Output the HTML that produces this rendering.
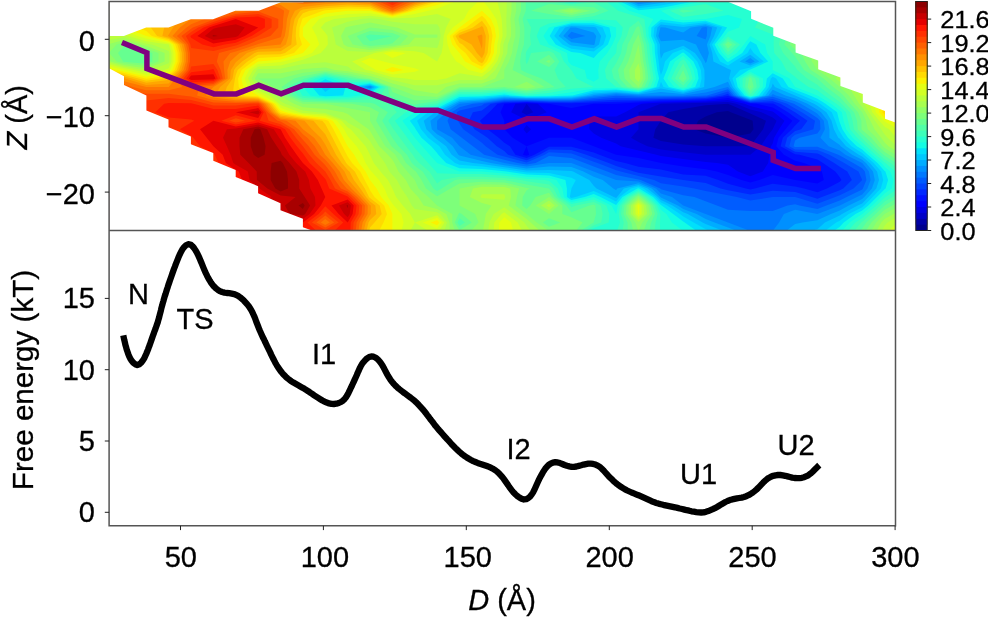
<!DOCTYPE html>
<html lang="en"><head><meta charset="utf-8"><title>Free energy landscape</title>
<style>
html,body{margin:0;padding:0;background:#fff}
svg{display:block}
text{font-family:"Liberation Sans",Arial,Helvetica,sans-serif;fill:#000;stroke:#000;stroke-width:0.3px}
.ax{font-size:29px}
.cb{font-size:25.4px}
.an{font-size:29px}
</style></head>
<body>
<svg width="988" height="617" viewBox="0 0 988 617">
<rect width="988" height="617" fill="#fff"/>
<defs><clipPath id="p"><rect x="109.1" y="1.4" width="786.4" height="229.2"/></clipPath></defs>
<g clip-path="url(#p)"><g>
<rect x="100" y="0" width="800" height="232" fill="#00008d"/>
<path fill="#0000a8" d="M101.6 -3L124 -3L146.3 -3L168.7 -3L191.1 -3L213.4 -3L235.8 -3L258.2 -3L280.6 -3L302.9 -3L325.3 -3L347.7 -3L370 -3L392.4 -3L414.8 -3L437.1 -3L459.5 -3L481.9 -3L504.3 -3L526.6 -3L549 -3L571.4 -3L593.7 -3L616.1 -3L638.5 -3L660.9 -3L683.2 -3L705.6 -3L728 -3L750.3 -3L772.7 -3L795.1 -3L817.4 -3L839.8 -3L862.2 -3L884.6 -3L906.9 -3L906.9 2.2L906.9 10.7L906.9 19.1L906.9 27.6L906.9 36.1L906.9 44.6L906.9 53L906.9 61.5L906.9 70L906.9 78.4L906.9 86.9L906.9 95.4L906.9 103.8L906.9 112.3L906.9 120.8L906.9 129.2L906.9 137.7L906.9 146.2L906.9 154.7L906.9 163.1L906.9 171.6L906.9 180.1L906.9 188.5L906.9 197L906.9 205.5L906.9 214L906.9 222.4L906.9 230.9L884.6 230.9L862.2 230.9L839.8 230.9L817.4 230.9L795.1 230.9L772.7 230.9L750.3 230.9L728 230.9L705.6 230.9L683.2 230.9L660.9 230.9L638.5 230.9L616.1 230.9L593.7 230.9L571.4 230.9L549 230.9L526.6 230.9L504.3 230.9L481.9 230.9L459.5 230.9L437.1 230.9L414.8 230.9L392.4 230.9L370 230.9L347.7 230.9L325.3 230.9L302.9 230.9L280.6 230.9L258.2 230.9L235.8 230.9L213.4 230.9L191.1 230.9L168.7 230.9L146.3 230.9L124 230.9L101.6 230.9L101.6 222.4L101.6 214L101.6 205.5L101.6 197L101.6 188.5L101.6 180.1L101.6 171.6L101.6 163.1L101.6 154.7L101.6 146.2L101.6 137.7L101.6 129.2L101.6 120.8L101.6 112.3L101.6 103.8L101.6 95.4L101.6 86.9L101.6 78.4L101.6 70L101.6 61.5L101.6 53L101.6 44.6L101.6 36.1L101.6 27.6L101.6 19.1L101.6 10.7L101.6 2.2ZM728 111.1L716.8 112.3L705.6 116.5L698.1 120.8L694.4 129.2L705.6 133.5L728 137.7L728 137.7L728 137.7L750.3 133.5L753.5 129.2L752.6 120.8L750.3 119.7L730.8 112.3Z"/>
<path fill="#0000c8" d="M101.6 -3L124 -3L146.3 -3L168.7 -3L191.1 -3L213.4 -3L235.8 -3L258.2 -3L280.6 -3L302.9 -3L325.3 -3L347.7 -3L370 -3L392.4 -3L414.8 -3L437.1 -3L459.5 -3L481.9 -3L504.3 -3L526.6 -3L549 -3L571.4 -3L593.7 -3L616.1 -3L638.5 -3L660.9 -3L683.2 -3L705.6 -3L728 -3L750.3 -3L772.7 -3L795.1 -3L817.4 -3L839.8 -3L862.2 -3L884.6 -3L906.9 -3L906.9 2.2L906.9 10.7L906.9 19.1L906.9 27.6L906.9 36.1L906.9 44.6L906.9 53L906.9 61.5L906.9 70L906.9 78.4L906.9 86.9L906.9 95.4L906.9 103.8L906.9 112.3L906.9 120.8L906.9 129.2L906.9 137.7L906.9 146.2L906.9 154.7L906.9 163.1L906.9 171.6L906.9 180.1L906.9 188.5L906.9 197L906.9 205.5L906.9 214L906.9 222.4L906.9 230.9L884.6 230.9L862.2 230.9L839.8 230.9L817.4 230.9L795.1 230.9L772.7 230.9L750.3 230.9L728 230.9L705.6 230.9L683.2 230.9L660.9 230.9L638.5 230.9L616.1 230.9L593.7 230.9L571.4 230.9L549 230.9L526.6 230.9L504.3 230.9L481.9 230.9L459.5 230.9L437.1 230.9L414.8 230.9L392.4 230.9L370 230.9L347.7 230.9L325.3 230.9L302.9 230.9L280.6 230.9L258.2 230.9L235.8 230.9L213.4 230.9L191.1 230.9L168.7 230.9L146.3 230.9L124 230.9L101.6 230.9L101.6 222.4L101.6 214L101.6 205.5L101.6 197L101.6 188.5L101.6 180.1L101.6 171.6L101.6 163.1L101.6 154.7L101.6 146.2L101.6 137.7L101.6 129.2L101.6 120.8L101.6 112.3L101.6 103.8L101.6 95.4L101.6 86.9L101.6 78.4L101.6 70L101.6 61.5L101.6 53L101.6 44.6L101.6 36.1L101.6 27.6L101.6 19.1L101.6 10.7L101.6 2.2ZM728 103.8L728 103.8L705.6 105.3L683.2 108.9L668.3 112.3L660.9 120.8L660.9 120.8L655.3 129.2L653.4 137.7L660.9 141.1L683.2 144.5L705.6 146.2L705.6 146.2L728 146.2L750.3 146.2L750.3 146.2L756.7 137.7L763.1 129.2L766 120.8L750.3 113.4L747.5 112.3L728 103.8Z"/>
<path fill="#0000e3" d="M101.6 -3L124 -3L146.3 -3L168.7 -3L191.1 -3L213.4 -3L235.8 -3L258.2 -3L280.6 -3L302.9 -3L325.3 -3L347.7 -3L370 -3L392.4 -3L414.8 -3L437.1 -3L459.5 -3L481.9 -3L504.3 -3L526.6 -3L549 -3L571.4 -3L593.7 -3L616.1 -3L638.5 -3L660.9 -3L683.2 -3L705.6 -3L728 -3L750.3 -3L772.7 -3L795.1 -3L817.4 -3L839.8 -3L862.2 -3L884.6 -3L906.9 -3L906.9 2.2L906.9 10.7L906.9 19.1L906.9 27.6L906.9 36.1L906.9 44.6L906.9 53L906.9 61.5L906.9 70L906.9 78.4L906.9 86.9L906.9 95.4L906.9 103.8L906.9 112.3L906.9 120.8L906.9 129.2L906.9 137.7L906.9 146.2L906.9 154.7L906.9 163.1L906.9 171.6L906.9 180.1L906.9 188.5L906.9 197L906.9 205.5L906.9 214L906.9 222.4L906.9 230.9L884.6 230.9L862.2 230.9L839.8 230.9L817.4 230.9L795.1 230.9L772.7 230.9L750.3 230.9L728 230.9L705.6 230.9L683.2 230.9L660.9 230.9L638.5 230.9L616.1 230.9L593.7 230.9L571.4 230.9L549 230.9L526.6 230.9L504.3 230.9L481.9 230.9L459.5 230.9L437.1 230.9L414.8 230.9L392.4 230.9L370 230.9L347.7 230.9L325.3 230.9L302.9 230.9L280.6 230.9L258.2 230.9L235.8 230.9L213.4 230.9L191.1 230.9L168.7 230.9L146.3 230.9L124 230.9L101.6 230.9L101.6 222.4L101.6 214L101.6 205.5L101.6 197L101.6 188.5L101.6 180.1L101.6 171.6L101.6 163.1L101.6 154.7L101.6 146.2L101.6 137.7L101.6 129.2L101.6 120.8L101.6 112.3L101.6 103.8L101.6 95.4L101.6 86.9L101.6 78.4L101.6 70L101.6 61.5L101.6 53L101.6 44.6L101.6 36.1L101.6 27.6L101.6 19.1L101.6 10.7L101.6 2.2ZM526.6 103.8L521.5 112.3L526.6 114.9L533.3 112.3ZM683.2 103.3L660.9 103.8L660.9 103.8L638.5 112.3L638.5 120.8L638.5 129.2L638.5 129.2L631 137.7L638.5 142L647.4 146.2L660.9 149.4L683.2 152.2L705.6 154.7L728 154.7L750.3 154.7L760.7 146.2L766.3 137.7L772.7 129.2L772.7 129.2L776.6 120.8L772.7 117.6L761.5 112.3L750.3 109.5L736.3 103.8L728 101.9L705.6 102.8Z"/>
<path fill="#0000ff" d="M101.6 -3L124 -3L146.3 -3L168.7 -3L191.1 -3L213.4 -3L235.8 -3L258.2 -3L280.6 -3L302.9 -3L325.3 -3L347.7 -3L370 -3L392.4 -3L414.8 -3L437.1 -3L459.5 -3L481.9 -3L504.3 -3L526.6 -3L549 -3L571.4 -3L593.7 -3L616.1 -3L638.5 -3L660.9 -3L683.2 -3L705.6 -3L728 -3L750.3 -3L772.7 -3L795.1 -3L817.4 -3L839.8 -3L862.2 -3L884.6 -3L906.9 -3L906.9 2.2L906.9 10.7L906.9 19.1L906.9 27.6L906.9 36.1L906.9 44.6L906.9 53L906.9 61.5L906.9 70L906.9 78.4L906.9 86.9L906.9 95.4L906.9 103.8L906.9 112.3L906.9 120.8L906.9 129.2L906.9 137.7L906.9 146.2L906.9 154.7L906.9 163.1L906.9 171.6L906.9 180.1L906.9 188.5L906.9 197L906.9 205.5L906.9 214L906.9 222.4L906.9 230.9L884.6 230.9L862.2 230.9L839.8 230.9L817.4 230.9L795.1 230.9L772.7 230.9L750.3 230.9L728 230.9L705.6 230.9L683.2 230.9L660.9 230.9L638.5 230.9L616.1 230.9L593.7 230.9L571.4 230.9L549 230.9L526.6 230.9L504.3 230.9L481.9 230.9L459.5 230.9L437.1 230.9L414.8 230.9L392.4 230.9L370 230.9L347.7 230.9L325.3 230.9L302.9 230.9L280.6 230.9L258.2 230.9L235.8 230.9L213.4 230.9L191.1 230.9L168.7 230.9L146.3 230.9L124 230.9L101.6 230.9L101.6 222.4L101.6 214L101.6 205.5L101.6 197L101.6 188.5L101.6 180.1L101.6 171.6L101.6 163.1L101.6 154.7L101.6 146.2L101.6 137.7L101.6 129.2L101.6 120.8L101.6 112.3L101.6 103.8L101.6 95.4L101.6 86.9L101.6 78.4L101.6 70L101.6 61.5L101.6 53L101.6 44.6L101.6 36.1L101.6 27.6L101.6 19.1L101.6 10.7L101.6 2.2ZM526.6 103.2L515.4 103.8L511.1 112.3L526.6 119.9L546.8 112.3L537.8 103.8ZM660.9 102.6L641.7 103.8L638.5 105.1L625.1 112.3L616.1 116.5L593.7 116.5L589.3 120.8L589.3 129.2L593.7 133.5L601.2 137.7L616.1 143.4L620.6 146.2L638.5 150.4L656.4 154.7L660.9 155.9L683.2 158.9L705.6 161.9L716.8 163.1L728 164.8L737.9 171.6L750.3 176.3L762.8 171.6L768.2 163.1L769.5 154.7L771 146.2L772.7 143.4L774.1 137.7L779.1 129.2L784.5 120.8L773.9 112.3L772.7 111.6L750.3 106.1L744.7 103.8L728 99.9L705.6 101.6L683.2 102.1ZM526.6 125L523.4 129.2L526.6 133.5L531.1 129.2Z"/>
<path fill="#0010ff" d="M101.6 -3L124 -3L146.3 -3L168.7 -3L191.1 -3L213.4 -3L235.8 -3L258.2 -3L280.6 -3L302.9 -3L325.3 -3L347.7 -3L370 -3L392.4 -3L414.8 -3L437.1 -3L459.5 -3L481.9 -3L504.3 -3L526.6 -3L549 -3L571.4 -3L593.7 -3L616.1 -3L638.5 -3L660.9 -3L683.2 -3L705.6 -3L728 -3L750.3 -3L772.7 -3L795.1 -3L817.4 -3L839.8 -3L862.2 -3L884.6 -3L906.9 -3L906.9 2.2L906.9 10.7L906.9 19.1L906.9 27.6L906.9 36.1L906.9 44.6L906.9 53L906.9 61.5L906.9 70L906.9 78.4L906.9 86.9L906.9 95.4L906.9 103.8L906.9 112.3L906.9 120.8L906.9 129.2L906.9 137.7L906.9 146.2L906.9 154.7L906.9 163.1L906.9 171.6L906.9 180.1L906.9 188.5L906.9 197L906.9 205.5L906.9 214L906.9 222.4L906.9 230.9L884.6 230.9L862.2 230.9L839.8 230.9L817.4 230.9L795.1 230.9L772.7 230.9L750.3 230.9L728 230.9L705.6 230.9L683.2 230.9L660.9 230.9L638.5 230.9L616.1 230.9L593.7 230.9L571.4 230.9L549 230.9L526.6 230.9L504.3 230.9L481.9 230.9L459.5 230.9L437.1 230.9L414.8 230.9L392.4 230.9L370 230.9L347.7 230.9L325.3 230.9L302.9 230.9L280.6 230.9L258.2 230.9L235.8 230.9L213.4 230.9L191.1 230.9L168.7 230.9L146.3 230.9L124 230.9L101.6 230.9L101.6 222.4L101.6 214L101.6 205.5L101.6 197L101.6 188.5L101.6 180.1L101.6 171.6L101.6 163.1L101.6 154.7L101.6 146.2L101.6 137.7L101.6 129.2L101.6 120.8L101.6 112.3L101.6 103.8L101.6 95.4L101.6 86.9L101.6 78.4L101.6 70L101.6 61.5L101.6 53L101.6 44.6L101.6 36.1L101.6 27.6L101.6 19.1L101.6 10.7L101.6 2.2ZM504.3 103.8L504.3 103.8L500.5 112.3L504.3 120.8L504.3 129.2L504.3 129.2L512.6 137.7L526.6 146.2L522.9 154.7L526.6 155.8L529.2 154.7L526.6 146.2L549 137.7L571.4 137.7L593.7 146.2L593.7 146.2L616.1 154.7L616.1 154.7L638.5 158L660.9 163.1L660.9 163.1L683.2 166.5L705.6 169.2L716.8 171.6L728 175L741.4 180.1L750.3 182.5L759.3 180.1L772.7 175L795.1 180.1L795.1 180.1L817.4 183.5L823.8 180.1L821.9 171.6L817.4 168.2L804 163.1L795.1 160.7L783.9 154.7L776.3 146.2L778.5 137.7L785.5 129.2L792.4 120.8L780.9 112.3L772.7 107.4L756.7 103.8L750.3 103.6L728 98L705.6 100.4L683.2 101L660.9 101.4L638.5 102.6L616.1 103.8L593.7 103.8L593.7 103.8L571.4 108.1L549 103.8L549 103.8L526.6 102.5Z"/>
<path fill="#0028ff" d="M101.6 -3L124 -3L146.3 -3L168.7 -3L191.1 -3L213.4 -3L235.8 -3L258.2 -3L280.6 -3L302.9 -3L325.3 -3L347.7 -3L370 -3L392.4 -3L414.8 -3L437.1 -3L459.5 -3L481.9 -3L504.3 -3L526.6 -3L549 -3L571.4 -3L593.7 -3L616.1 -3L638.5 -3L660.9 -3L683.2 -3L705.6 -3L728 -3L750.3 -3L772.7 -3L795.1 -3L817.4 -3L839.8 -3L862.2 -3L884.6 -3L906.9 -3L906.9 2.2L906.9 10.7L906.9 19.1L906.9 27.6L906.9 36.1L906.9 44.6L906.9 53L906.9 61.5L906.9 70L906.9 78.4L906.9 86.9L906.9 95.4L906.9 103.8L906.9 112.3L906.9 120.8L906.9 129.2L906.9 137.7L906.9 146.2L906.9 154.7L906.9 163.1L906.9 171.6L906.9 180.1L906.9 188.5L906.9 197L906.9 205.5L906.9 214L906.9 222.4L906.9 230.9L884.6 230.9L862.2 230.9L839.8 230.9L817.4 230.9L795.1 230.9L772.7 230.9L750.3 230.9L728 230.9L705.6 230.9L683.2 230.9L660.9 230.9L638.5 230.9L616.1 230.9L593.7 230.9L571.4 230.9L549 230.9L526.6 230.9L504.3 230.9L481.9 230.9L459.5 230.9L437.1 230.9L414.8 230.9L392.4 230.9L370 230.9L347.7 230.9L325.3 230.9L302.9 230.9L280.6 230.9L258.2 230.9L235.8 230.9L213.4 230.9L191.1 230.9L168.7 230.9L146.3 230.9L124 230.9L101.6 230.9L101.6 222.4L101.6 214L101.6 205.5L101.6 197L101.6 188.5L101.6 180.1L101.6 171.6L101.6 163.1L101.6 154.7L101.6 146.2L101.6 137.7L101.6 129.2L101.6 120.8L101.6 112.3L101.6 103.8L101.6 95.4L101.6 86.9L101.6 78.4L101.6 70L101.6 61.5L101.6 53L101.6 44.6L101.6 36.1L101.6 27.6L101.6 19.1L101.6 10.7L101.6 2.2ZM504.3 102.8L497.5 103.8L489.3 112.3L481.9 119.1L480 120.8L481.9 123.6L487.5 129.2L498.7 137.7L504.3 142.8L509.9 146.2L515.4 154.7L526.6 158L534.4 154.7L549 146.7L571.4 146.8L593.7 152.5L599.3 154.7L616.1 161L625.1 163.1L638.5 166.8L660.9 169.5L669.8 171.6L683.2 174.4L705.6 175.8L718.4 180.1L728 183.7L745.9 188.5L750.3 189.4L754.8 188.5L772.7 183.7L795.1 186.4L804 188.5L817.4 192.2L827 188.5L839.8 181.8L841.5 180.1L839.8 177.2L835.3 171.6L823 163.1L817.4 159.5L799.5 154.7L795.1 154.3L780.6 146.2L782.8 137.7L791.9 129.2L795.1 125.6L800 120.8L795.1 117.4L788 112.3L773.8 103.8L772.7 103.5L750.3 102.9L728 96L705.6 99.2L683.2 99.9L660.9 100.2L638.5 101.2L616.1 101.8L593.7 102.4L571.4 103.2L549 103L526.6 101.9Z"/>
<path fill="#0044ff" d="M101.6 -3L124 -3L146.3 -3L168.7 -3L191.1 -3L213.4 -3L235.8 -3L258.2 -3L280.6 -3L302.9 -3L325.3 -3L347.7 -3L370 -3L392.4 -3L414.8 -3L437.1 -3L459.5 -3L481.9 -3L504.3 -3L526.6 -3L549 -3L571.4 -3L593.7 -3L616.1 -3L638.5 -3L660.9 -3L683.2 -3L705.6 -3L728 -3L750.3 -3L772.7 -3L795.1 -3L817.4 -3L839.8 -3L862.2 -3L884.6 -3L906.9 -3L906.9 2.2L906.9 10.7L906.9 19.1L906.9 27.6L906.9 36.1L906.9 44.6L906.9 53L906.9 61.5L906.9 70L906.9 78.4L906.9 86.9L906.9 95.4L906.9 103.8L906.9 112.3L906.9 120.8L906.9 129.2L906.9 137.7L906.9 146.2L906.9 154.7L906.9 163.1L906.9 171.6L906.9 180.1L906.9 188.5L906.9 197L906.9 205.5L906.9 214L906.9 222.4L906.9 230.9L884.6 230.9L862.2 230.9L839.8 230.9L817.4 230.9L795.1 230.9L772.7 230.9L750.3 230.9L728 230.9L705.6 230.9L683.2 230.9L660.9 230.9L638.5 230.9L616.1 230.9L593.7 230.9L571.4 230.9L549 230.9L526.6 230.9L504.3 230.9L481.9 230.9L459.5 230.9L437.1 230.9L414.8 230.9L392.4 230.9L370 230.9L347.7 230.9L325.3 230.9L302.9 230.9L280.6 230.9L258.2 230.9L235.8 230.9L213.4 230.9L191.1 230.9L168.7 230.9L146.3 230.9L124 230.9L101.6 230.9L101.6 222.4L101.6 214L101.6 205.5L101.6 197L101.6 188.5L101.6 180.1L101.6 171.6L101.6 163.1L101.6 154.7L101.6 146.2L101.6 137.7L101.6 129.2L101.6 120.8L101.6 112.3L101.6 103.8L101.6 95.4L101.6 86.9L101.6 78.4L101.6 70L101.6 61.5L101.6 53L101.6 44.6L101.6 36.1L101.6 27.6L101.6 19.1L101.6 10.7L101.6 2.2ZM728 93.8L722.7 95.4L705.6 98L683.2 98.8L660.9 99L638.5 99.7L616.1 99.8L593.7 100.9L571.4 102.2L549 102.1L526.6 101.2L504.3 101.8L490.8 103.8L481.9 110.6L472.9 112.3L468.8 120.8L474.4 129.2L481.9 134.1L487.5 137.7L496.8 146.2L504.3 151L508 154.7L526.6 160.2L539.5 154.7L549 149.5L571.4 150.1L586.3 154.7L593.7 157.5L608.7 163.1L616.1 166L634 171.6L638.5 172.7L660.9 176.4L683.2 180.1L683.2 180.1L705.6 182.9L720.5 188.5L728 190.2L750.3 194.5L772.7 190.7L795.1 191.9L811.8 197L817.4 198.7L821.9 197L839.8 190.2L843.3 188.5L851.9 180.1L847.3 171.6L839.8 166.8L834.2 163.1L820.4 154.7L817.4 153.5L795.1 151.8L785 146.2L787.1 137.7L795.1 131.1L801.2 129.2L807.5 120.8L795.1 112.3L795.1 112.3L780.5 103.8L772.7 101.3L750.3 102.2L729.4 95.4Z"/>
<path fill="#005cff" d="M101.6 -3L124 -3L146.3 -3L168.7 -3L191.1 -3L213.4 -3L235.8 -3L258.2 -3L280.6 -3L302.9 -3L325.3 -3L347.7 -3L370 -3L392.4 -3L414.8 -3L437.1 -3L459.5 -3L481.9 -3L504.3 -3L526.6 -3L549 -3L571.4 -3L593.7 -3L616.1 -3L638.5 -3L660.9 -3L683.2 -3L705.6 -3L728 -3L750.3 -3L772.7 -3L795.1 -3L817.4 -3L839.8 -3L862.2 -3L884.6 -3L906.9 -3L906.9 2.2L906.9 10.7L906.9 19.1L906.9 27.6L906.9 36.1L906.9 44.6L906.9 53L906.9 61.5L906.9 70L906.9 78.4L906.9 86.9L906.9 95.4L906.9 103.8L906.9 112.3L906.9 120.8L906.9 129.2L906.9 137.7L906.9 146.2L906.9 154.7L906.9 163.1L906.9 171.6L906.9 180.1L906.9 188.5L906.9 197L906.9 205.5L906.9 214L906.9 222.4L906.9 230.9L884.6 230.9L862.2 230.9L839.8 230.9L817.4 230.9L795.1 230.9L772.7 230.9L750.3 230.9L728 230.9L705.6 230.9L683.2 230.9L660.9 230.9L638.5 230.9L616.1 230.9L593.7 230.9L571.4 230.9L549 230.9L526.6 230.9L504.3 230.9L481.9 230.9L459.5 230.9L437.1 230.9L414.8 230.9L392.4 230.9L370 230.9L347.7 230.9L325.3 230.9L302.9 230.9L280.6 230.9L258.2 230.9L235.8 230.9L213.4 230.9L191.1 230.9L168.7 230.9L146.3 230.9L124 230.9L101.6 230.9L101.6 222.4L101.6 214L101.6 205.5L101.6 197L101.6 188.5L101.6 180.1L101.6 171.6L101.6 163.1L101.6 154.7L101.6 146.2L101.6 137.7L101.6 129.2L101.6 120.8L101.6 112.3L101.6 103.8L101.6 95.4L101.6 86.9L101.6 78.4L101.6 70L101.6 61.5L101.6 53L101.6 44.6L101.6 36.1L101.6 27.6L101.6 19.1L101.6 10.7L101.6 2.2ZM728 91.5L714.8 95.4L705.6 96.8L683.2 97.6L660.9 97.8L638.5 98.3L616.1 97.7L593.7 99.5L571.4 101.3L549 101.3L526.6 100.5L504.3 100.8L484.1 103.8L481.9 105.5L459.5 110.6L456.8 112.3L457.8 120.8L459.5 123.6L463.2 129.2L475.2 137.7L481.9 142.8L485.6 146.2L497.5 154.7L504.3 156.4L526.6 162.4L544.7 154.7L549 152.3L571.4 153.5L575.1 154.7L593.7 161.7L597.5 163.1L616.1 170.2L620.6 171.6L638.5 176.1L654.1 180.1L660.9 183.2L683.2 186.4L694.4 188.5L705.6 191L728 195.3L736.9 197L750.3 200.6L772.7 197L795.1 197L817.4 203.8L835.3 197L839.8 195.3L853.6 188.5L862.2 180.1L862.2 180.1L862.2 180.1L858.5 171.6L844.3 163.1L839.8 160.6L829.4 154.7L817.4 150.1L795.1 149.4L789.3 146.2L791.5 137.7L795.1 134.7L813.4 129.2L815 120.8L801.8 112.3L795.1 108.4L787.2 103.8L772.7 99.1L750.3 101.5L731.6 95.4Z"/>
<path fill="#0078ff" d="M101.6 -3L124 -3L146.3 -3L168.7 -3L191.1 -3L213.4 -3L235.8 -3L258.2 -3L280.6 -3L302.9 -3L325.3 -3L347.7 -3L370 -3L392.4 -3L414.8 -3L437.1 -3L459.5 -3L481.9 -3L504.3 -3L526.6 -3L549 -3L571.4 -3L593.7 -3L616.1 -3L638.5 -3L660.9 -3L683.2 -3L705.6 -3L728 -3L750.3 -3L772.7 -3L795.1 -3L817.4 -3L839.8 -3L862.2 -3L884.6 -3L906.9 -3L906.9 2.2L906.9 10.7L906.9 19.1L906.9 27.6L906.9 36.1L906.9 44.6L906.9 53L906.9 61.5L906.9 70L906.9 78.4L906.9 86.9L906.9 95.4L906.9 103.8L906.9 112.3L906.9 120.8L906.9 129.2L906.9 137.7L906.9 146.2L906.9 154.7L906.9 163.1L906.9 171.6L906.9 180.1L906.9 188.5L906.9 197L906.9 205.5L906.9 214L906.9 222.4L906.9 230.9L884.6 230.9L862.2 230.9L839.8 230.9L817.4 230.9L795.1 230.9L772.7 230.9L750.3 230.9L728 230.9L705.6 230.9L683.2 230.9L660.9 230.9L638.5 230.9L616.1 230.9L593.7 230.9L571.4 230.9L549 230.9L526.6 230.9L504.3 230.9L481.9 230.9L459.5 230.9L437.1 230.9L414.8 230.9L392.4 230.9L370 230.9L347.7 230.9L325.3 230.9L302.9 230.9L280.6 230.9L258.2 230.9L235.8 230.9L213.4 230.9L191.1 230.9L168.7 230.9L146.3 230.9L124 230.9L101.6 230.9L101.6 222.4L101.6 214L101.6 205.5L101.6 197L101.6 188.5L101.6 180.1L101.6 171.6L101.6 163.1L101.6 154.7L101.6 146.2L101.6 137.7L101.6 129.2L101.6 120.8L101.6 112.3L101.6 103.8L101.6 95.4L101.6 86.9L101.6 78.4L101.6 70L101.6 61.5L101.6 53L101.6 44.6L101.6 36.1L101.6 27.6L101.6 19.1L101.6 10.7L101.6 2.2ZM728 89.2L706.9 95.4L705.6 95.6L683.2 96.5L660.9 96.6L638.5 96.8L616.1 95.7L593.7 98L571.4 100.3L549 100.5L526.6 99.9L504.3 99.8L481.9 103L472.9 103.8L459.5 107.2L451.5 112.3L447.5 120.8L450.6 129.2L459.5 136L461.8 137.7L472.9 146.2L481.9 153L484.1 154.7L504.3 159.7L517.7 163.1L526.6 164.5L535.6 163.1L549 155.9L571.4 158L584.8 163.1L593.7 166.5L607.2 171.6L616.1 175L638.5 179.5L640.7 180.1L660.2 188.5L660.9 189.2L683.2 195.3L694.4 197L705.6 201.2L716.8 205.5L728 209.7L750.3 211.1L772.7 211.1L787.6 205.5L795.1 204.3L799.5 205.5L817.4 208.9L826.4 205.5L839.8 200.4L846.7 197L862.2 189.4L862.9 188.5L866.4 180.1L864.9 171.6L862.2 168.2L853.2 163.1L839.8 155.5L838.3 154.7L817.4 146.8L795.1 147L793.6 146.2L795.1 140.5L799.5 137.7L817.4 133.5L820.4 129.2L820 120.8L817.4 118L808.5 112.3L795.1 104.5L794 103.8L772.7 96.8L750.3 100.8L733.7 95.4Z"/>
<path fill="#0090ff" d="M101.6 -3L124 -3L146.3 -3L168.7 -3L191.1 -3L213.4 -3L235.8 -3L258.2 -3L280.6 -3L302.9 -3L325.3 -3L347.7 -3L370 -3L392.4 -3L414.8 -3L437.1 -3L459.5 -3L481.9 -3L504.3 -3L526.6 -3L549 -3L571.4 -3L593.7 -3L616.1 -3L638.5 -3L638.5 2.2L638.5 2.2L638.5 2.2L638.5 -3L660.9 -3L683.2 -3L705.6 -3L728 -3L750.3 -3L772.7 -3L795.1 -3L817.4 -3L839.8 -3L862.2 -3L884.6 -3L906.9 -3L906.9 2.2L906.9 10.7L906.9 19.1L906.9 27.6L906.9 36.1L906.9 44.6L906.9 53L906.9 61.5L906.9 70L906.9 78.4L906.9 86.9L906.9 95.4L906.9 103.8L906.9 112.3L906.9 120.8L906.9 129.2L906.9 137.7L906.9 146.2L906.9 154.7L906.9 163.1L906.9 171.6L906.9 180.1L906.9 188.5L906.9 197L906.9 205.5L906.9 214L906.9 222.4L906.9 230.9L884.6 230.9L862.2 230.9L839.8 230.9L817.4 230.9L795.1 230.9L772.7 230.9L779.1 222.4L783.9 214L795.1 209.7L817.4 214L817.4 214L817.4 214L839.8 205.5L839.8 205.5L857 197L862.2 194.5L867.4 188.5L870.6 180.1L869 171.6L862.2 163.1L862.2 163.1L845.4 154.7L839.8 150.4L828.6 146.2L820.4 137.7L824.9 129.2L823.8 120.8L817.4 113.7L815.2 112.3L800.7 103.8L795.1 101.3L775.9 95.4L772.7 94L771.6 95.4L750.3 100.1L735.9 95.4L728 86.9L728 86.9L728 86.9L705.6 92.5L683.2 95.4L660.9 95.4L638.5 95.4L616.1 94.3L604.9 95.4L593.7 96.6L571.4 99.4L549 99.6L526.6 99.2L504.3 98.8L481.9 101.7L459.5 103.8L459.5 103.8L446.1 112.3L437.1 120.8L437.1 120.8L437.1 129.2L437.1 129.2L452.1 137.7L459.5 146.2L459.5 146.2L470.7 154.7L481.9 157.5L504.3 163.1L504.3 163.1L526.6 166.5L549 163.1L571.4 163.1L593.7 171.6L593.7 171.6L616.1 180.1L616.1 180.1L638.5 181.5L656 188.5L660.9 193.5L672 197L683.2 205.5L683.2 205.5L705.6 214L705.6 214L728 222.4L728 222.4L750.3 230.9L728 230.9L705.6 230.9L683.2 230.9L660.9 230.9L638.5 230.9L616.1 230.9L593.7 230.9L571.4 230.9L549 230.9L526.6 230.9L504.3 230.9L481.9 230.9L459.5 230.9L437.1 230.9L414.8 230.9L392.4 230.9L370 230.9L347.7 230.9L325.3 230.9L302.9 230.9L280.6 230.9L258.2 230.9L235.8 230.9L213.4 230.9L191.1 230.9L168.7 230.9L146.3 230.9L124 230.9L101.6 230.9L101.6 222.4L101.6 214L101.6 205.5L101.6 197L101.6 188.5L101.6 180.1L101.6 171.6L101.6 163.1L101.6 154.7L101.6 146.2L101.6 137.7L101.6 129.2L101.6 120.8L101.6 112.3L101.6 103.8L101.6 95.4L101.6 86.9L101.6 78.4L101.6 70L101.6 61.5L101.6 53L101.6 44.6L101.6 36.1L101.6 27.6L101.6 19.1L101.6 10.7L101.6 2.2ZM370 86.9L370 86.9L370 86.9L370 86.9ZM571.4 31.8L567.6 36.1L571.4 38.9L585.4 36.1ZM660.9 36.1L660.9 36.1L660.9 36.1L660.9 36.1ZM705.6 27.1L701.9 27.6L696.6 36.1L705.6 39.5L706.8 36.1L707.2 27.6ZM750.3 61.5L750.3 61.5L750.3 61.5L750.3 61.5ZM705.6 53L705.6 53L705.6 53L705.6 53Z"/>
<path fill="#00acff" d="M101.6 -3L124 -3L146.3 -3L168.7 -3L191.1 -3L213.4 -3L235.8 -3L258.2 -3L280.6 -3L302.9 -3L325.3 -3L347.7 -3L370 -3L392.4 -3L414.8 -3L437.1 -3L459.5 -3L481.9 -3L504.3 -3L526.6 -3L549 -3L571.4 -3L593.7 -3L616.1 -3L634.3 -3L634.3 2.2L638.5 4.2L651.9 2.2L651.9 -3L660.9 -3L683.2 -3L705.6 -3L728 -3L750.3 -3L772.7 -3L795.1 -3L817.4 -3L839.8 -3L862.2 -3L884.6 -3L906.9 -3L906.9 2.2L906.9 10.7L906.9 19.1L906.9 27.6L906.9 36.1L906.9 44.6L906.9 53L906.9 61.5L906.9 70L906.9 78.4L906.9 86.9L906.9 95.4L906.9 103.8L906.9 112.3L906.9 120.8L906.9 129.2L906.9 137.7L906.9 146.2L906.9 154.7L906.9 163.1L906.9 171.6L906.9 180.1L906.9 188.5L906.9 197L906.9 205.5L906.9 214L906.9 222.4L906.9 230.9L884.6 230.9L862.2 230.9L839.8 230.9L817.4 230.9L795.1 230.9L786.1 230.9L795.1 224.1L802.5 222.4L817.4 220.3L830.9 214L839.8 210.6L848.8 205.5L862.2 199.1L864.3 197L871.9 188.5L874.8 180.1L873 171.6L866 163.1L862.2 159.7L852.1 154.7L840.7 146.2L839.8 145.1L829.4 137.7L829.4 129.2L827.7 120.8L821 112.3L817.4 109.7L807.4 103.8L795.1 98.4L785.5 95.4L772.7 89.7L768.4 95.4L750.3 99.4L738.1 95.4L730.4 86.9L728 81.8L714.5 86.9L705.6 89.2L683.2 94.1L660.9 92L638.5 94.5L616.1 93.1L593.7 95.1L592.6 95.4L571.4 98.4L549 98.8L526.6 98.6L504.3 97.7L481.9 100.5L459.5 102.1L456.2 103.8L440.7 112.3L437.1 115.7L430.4 120.8L431.8 129.2L437.1 134.3L443.1 137.7L452.8 146.2L458.4 154.7L459.5 155.5L481.9 160.9L490.8 163.1L504.3 165.2L526.6 168.6L549 166.5L571.4 167L583.4 171.6L593.7 176.7L602.7 180.1L613.3 188.5L616.1 190.2L617.2 188.5L638.5 183.2L651.8 188.5L660.4 197L660.9 197.4L677.9 205.5L683.2 208.9L696.6 214L705.6 219L714.5 222.4L728 227.5L736.9 230.9L728 230.9L705.6 230.9L683.2 230.9L660.9 230.9L638.5 230.9L616.1 230.9L593.7 230.9L571.4 230.9L549 230.9L526.6 230.9L504.3 230.9L481.9 230.9L459.5 230.9L437.1 230.9L414.8 230.9L392.4 230.9L370 230.9L347.7 230.9L325.3 230.9L302.9 230.9L280.6 230.9L258.2 230.9L235.8 230.9L213.4 230.9L191.1 230.9L168.7 230.9L146.3 230.9L124 230.9L101.6 230.9L101.6 222.4L101.6 214L101.6 205.5L101.6 197L101.6 188.5L101.6 180.1L101.6 171.6L101.6 163.1L101.6 154.7L101.6 146.2L101.6 137.7L101.6 129.2L101.6 120.8L101.6 112.3L101.6 103.8L101.6 95.4L101.6 86.9L101.6 78.4L101.6 70L101.6 61.5L101.6 53L101.6 44.6L101.6 36.1L101.6 27.6L101.6 19.1L101.6 10.7L101.6 2.2ZM370 86.1L364.7 86.9L370 88.4L372.3 86.9ZM571.4 27.4L570.5 27.6L563.2 36.1L571.4 42.3L589.3 44.6L593.7 45.1L594.5 44.6L596.2 36.1L593.7 32.5L575.8 27.6ZM660.9 27.2L660.4 27.6L658.4 36.1L660.9 41.2L683.2 39.7L696 44.6L700.2 53L705 61.5L705.6 63.2L706.7 61.5L708.9 53L706.9 44.6L710.4 36.1L712.2 27.6L705.6 25.5L690.7 27.6L683.2 32.5L665.3 27.6ZM750.3 58.1L745 61.5L750.3 63.5L754.8 61.5Z"/>
<path fill="#00c8ff" d="M101.6 -3L124 -3L146.3 -3L168.7 -3L191.1 -3L213.4 -3L235.8 -3L258.2 -3L280.6 -3L302.9 -3L325.3 -3L347.7 -3L370 -3L392.4 -3L414.8 -3L437.1 -3L459.5 -3L481.9 -3L504.3 -3L526.6 -3L549 -3L571.4 -3L593.7 -3L616.1 -3L630.1 -3L630.1 2.2L638.5 6.3L660.9 3L665.3 2.2L665.3 -3L683.2 -3L705.6 -3L728 -3L750.3 -3L772.7 -3L795.1 -3L817.4 -3L839.8 -3L862.2 -3L884.6 -3L906.9 -3L906.9 2.2L906.9 10.7L906.9 19.1L906.9 27.6L906.9 36.1L906.9 44.6L906.9 53L906.9 61.5L906.9 70L906.9 78.4L906.9 86.9L906.9 95.4L906.9 103.8L906.9 112.3L906.9 120.8L906.9 129.2L906.9 137.7L906.9 146.2L906.9 154.7L906.9 163.1L906.9 171.6L906.9 180.1L906.9 188.5L906.9 197L906.9 205.5L906.9 214L906.9 222.4L906.9 230.9L884.6 230.9L862.2 230.9L839.8 230.9L817.4 230.9L810 230.9L817.4 229.2L824.9 222.4L839.8 215.6L842 214L857.7 205.5L862.2 203.4L868.5 197L876.3 188.5L879 180.1L877.1 171.6L869.8 163.1L862.2 156.4L858.8 154.7L846.1 146.2L839.8 138.8L838.3 137.7L833.8 129.2L831.5 120.8L826.4 112.3L817.4 105.8L814.1 103.8L795.1 95.4L795.1 95.4L774.9 86.9L772.7 83.5L771.7 86.9L765.2 95.4L750.3 98.7L740.2 95.4L732.8 86.9L729.1 78.4L730.9 70L728 68.8L713.4 61.5L712.3 53L709.5 44.6L714.1 36.1L717.2 27.6L705.6 23.9L683.2 26.9L660.9 24.6L657.4 27.6L656 36.1L660 44.6L660 53L660.9 58.7L663.8 53L683.2 45.7L694.9 53L701.1 61.5L704.4 70L704.6 78.4L704.1 86.9L683.2 92.8L660.9 88.6L638.5 93.7L616.1 91.9L593.7 93.5L585.9 95.4L571.4 97.4L549 97.9L526.6 97.9L504.3 96.7L481.9 99.2L459.5 100.5L452.8 103.8L437.1 111.7L434.9 112.3L423.7 120.8L426.4 129.2L434.9 137.7L437.1 139.4L446.1 146.2L451.7 154.7L459.5 160.6L472.9 163.1L481.9 164L504.3 167.2L526.6 170.6L549 169.9L571.4 170.9L573.1 171.6L589.3 180.1L593.7 185.7L596.5 188.5L613.9 197L616.1 198.1L617 197L623.9 188.5L638.5 184.9L647.6 188.5L658 197L660.9 200L672.5 205.5L683.2 212.3L687.7 214L702.6 222.4L705.6 224.1L723.5 230.9L705.6 230.9L683.2 230.9L660.9 230.9L638.5 230.9L616.1 230.9L593.7 230.9L571.4 230.9L549 230.9L526.6 230.9L504.3 230.9L481.9 230.9L459.5 230.9L437.1 230.9L414.8 230.9L392.4 230.9L370 230.9L347.7 230.9L325.3 230.9L302.9 230.9L280.6 230.9L258.2 230.9L235.8 230.9L213.4 230.9L191.1 230.9L168.7 230.9L146.3 230.9L124 230.9L101.6 230.9L101.6 222.4L101.6 214L101.6 205.5L101.6 197L101.6 188.5L101.6 180.1L101.6 171.6L101.6 163.1L101.6 154.7L101.6 146.2L101.6 137.7L101.6 129.2L101.6 120.8L101.6 112.3L101.6 103.8L101.6 95.4L101.6 86.9L101.6 78.4L101.6 70L101.6 61.5L101.6 53L101.6 44.6L101.6 36.1L101.6 27.6L101.6 19.1L101.6 10.7L101.6 2.2ZM370 85.2L359.3 86.9L370 89.8L374.5 86.9ZM571.4 26L565.1 27.6L558.7 36.1L569.1 44.6L571.4 45.6L593.7 48.3L599 44.6L601.2 36.1L596 27.6L593.7 27ZM750.3 54.7L739.6 61.5L750.3 65.6L759.3 61.5Z"/>
<path fill="#00e0fb" d="M101.6 -3L124 -3L146.3 -3L168.7 -3L191.1 -3L213.4 -3L235.8 -3L258.2 -3L280.6 -3L302.9 -3L325.3 -3L347.7 -3L370 -3L392.4 -3L414.8 -3L437.1 -3L459.5 -3L481.9 -3L504.3 -3L526.6 -3L549 -3L571.4 -3L593.7 -3L616.1 -3L625.9 -3L625.9 2.2L638.5 8.3L660.9 5.6L678.7 2.2L678.7 -3L683.2 -3L705.6 -3L728 -3L750.3 -3L772.7 -3L795.1 -3L817.4 -3L839.8 -3L862.2 -3L884.6 -3L906.9 -3L906.9 2.2L906.9 10.7L906.9 19.1L906.9 27.6L906.9 36.1L906.9 44.6L906.9 53L906.9 61.5L906.9 70L906.9 78.4L906.9 86.9L906.9 95.4L906.9 103.8L906.9 112.3L906.9 120.8L906.9 129.2L906.9 137.7L906.9 146.2L906.9 154.7L906.9 163.1L906.9 171.6L906.9 180.1L906.9 188.5L906.9 197L906.9 205.5L906.9 214L906.9 222.4L906.9 230.9L884.6 230.9L862.2 230.9L839.8 230.9L824.9 230.9L836.1 222.4L839.8 220.7L848.8 214L862.2 207.2L864.2 205.5L872.7 197L880.8 188.5L883.2 180.1L881.2 171.6L873.7 163.1L864.1 154.7L862.2 153L851.4 146.2L843.5 137.7L839.8 131.7L838.3 129.2L835.3 120.8L831.8 112.3L820.1 103.8L817.4 102.1L802.5 95.4L795.1 92.5L781.6 86.9L776.1 78.4L772.7 76.7L770.8 78.4L768.7 86.9L762 95.4L750.3 98L742.4 95.4L735.3 86.9L732.4 78.4L739.9 70L750.3 67.6L763.8 61.5L753.7 53L750.3 47.9L747.6 53L734.2 61.5L728 65.4L720.1 61.5L715.7 53L712 44.6L717.7 36.1L722.2 27.6L705.6 22.3L683.2 24.7L660.9 22.1L654.4 27.6L653.5 36.1L657.3 44.6L657.5 53L658.7 61.5L659.6 70L660.9 75L662.9 70L665 61.5L672.8 53L683.2 49.1L689.5 53L697.3 61.5L700.9 70L701.6 78.4L699.6 86.9L683.2 91.6L663.5 86.9L660.9 81.8L659.4 86.9L638.5 92.8L616.1 90.6L593.7 91.8L579.2 95.4L571.4 96.5L549 97.1L526.6 97.2L504.3 95.7L481.9 97.9L459.5 98.8L449.5 103.8L437.1 110.1L428.2 112.3L417 120.8L421 129.2L428.2 137.7L437.1 144.5L439.4 146.2L445 154.7L455 163.1L459.5 164.8L481.9 166.5L504.3 169.2L519.9 171.6L526.6 172.6L549 172.9L571.4 177.7L575.8 180.1L571.4 188.5L571.4 188.5L569.9 197L571.4 198L575.8 197L593.7 191L607.2 197L616.1 201.5L619.7 197L630.7 188.5L638.5 186.6L643.4 188.5L655.6 197L660.9 202.5L667.1 205.5L679.9 214L683.2 216.5L693.7 222.4L705.6 229.2L710.1 230.9L705.6 230.9L683.2 230.9L660.9 230.9L638.5 230.9L616.1 230.9L593.7 230.9L571.4 230.9L549 230.9L526.6 230.9L504.3 230.9L481.9 230.9L459.5 230.9L437.1 230.9L414.8 230.9L392.4 230.9L370 230.9L347.7 230.9L325.3 230.9L302.9 230.9L280.6 230.9L258.2 230.9L235.8 230.9L213.4 230.9L191.1 230.9L168.7 230.9L146.3 230.9L124 230.9L101.6 230.9L101.6 222.4L101.6 214L101.6 205.5L101.6 197L101.6 188.5L101.6 180.1L101.6 171.6L101.6 163.1L101.6 154.7L101.6 146.2L101.6 137.7L101.6 129.2L101.6 120.8L101.6 112.3L101.6 103.8L101.6 95.4L101.6 86.9L101.6 78.4L101.6 70L101.6 61.5L101.6 53L101.6 44.6L101.6 36.1L101.6 27.6L101.6 19.1L101.6 10.7L101.6 2.2ZM325.3 84.4L320.8 86.9L325.3 92L332 86.9ZM370 84.4L353.9 86.9L370 91.3L376.8 86.9ZM571.4 24.6L559.7 27.6L554.2 36.1L562.4 44.6L571.4 48.8L593.7 51.4L603.4 44.5L606.2 36.1L602.7 27.6L593.7 25.1Z"/>
<path fill="#13fce4" d="M101.6 -3L124 -3L146.3 -3L168.7 -3L191.1 -3L213.4 -3L235.8 -3L258.2 -3L280.6 -3L302.9 -3L325.3 -3L347.7 -3L370 -3L392.4 -3L414.8 -3L437.1 -3L459.5 -3L481.9 -3L504.3 -3L526.6 -3L549 -3L571.4 -3L593.7 -3L616.1 -3L621.7 -3L621.7 2.2L638.5 10.3L660.9 8.1L683.2 3.6L689.2 2.2L689.2 -3L705.6 -3L728 -3L750.3 -3L772.7 -3L795.1 -3L817.4 -3L839.8 -3L862.2 -3L884.6 -3L906.9 -3L906.9 2.2L906.9 10.7L906.9 19.1L906.9 27.6L906.9 36.1L906.9 44.6L906.9 53L906.9 61.5L906.9 70L906.9 78.4L906.9 86.9L906.9 95.4L906.9 103.8L906.9 112.3L906.9 120.8L906.9 129.2L906.9 137.7L906.9 146.2L906.9 154.7L906.9 163.1L906.9 171.6L906.9 180.1L906.9 188.5L906.9 197L906.9 205.5L906.9 214L906.9 222.4L906.9 230.9L884.6 230.9L862.2 230.9L839.8 230.9L833.8 230.9L839.8 226.7L843.7 222.4L855.5 214L862.2 210.6L868.3 205.5L876.9 197L884.6 189.2L885.6 188.5L888.1 180.1L885.4 171.6L884.6 170.9L877.5 163.1L867.9 154.7L862.2 149.6L856.8 146.2L848 137.7L842.4 129.2L839.8 122.5L839.2 120.8L837.1 112.3L825.5 103.8L817.4 98.8L810 95.4L795.1 89.7L788.4 86.9L782.8 78.4L772.7 73.3L766.9 78.4L765.7 86.9L758.9 95.4L750.3 97.3L744.6 95.4L737.7 86.9L735.8 78.4L748.8 70L750.3 69.6L768.2 61.5L760.4 53L756.3 44.6L750.3 41.2L747.8 44.6L742.3 53L728.9 61.5L728 62.1L726.8 61.5L719 53L714.6 44.5L721.3 36.1L727.1 27.6L705.6 20.7L683.2 22.5L660.9 19.6L651.4 27.6L651.1 36.1L654.6 44.6L654.9 53L656.1 61.5L657.2 70L659.1 78.4L656.4 86.9L638.5 92L616.1 89.4L593.7 90.2L572.5 95.4L571.4 95.5L549 96.2L526.6 96.6L510.2 95.4L504.3 94.4L495.3 95.4L481.9 96.6L459.5 97.1L446.1 103.8L437.1 108.4L421.5 112.3L414.8 117.4L409.8 120.8L414.8 127.6L415.7 129.2L421.5 137.7L431.2 146.2L437.1 153L438.3 154.7L446.1 163.1L459.5 168.2L481.9 169.1L504.3 171.3L506.5 171.6L526.6 174.6L549 175.4L565.4 180.1L566.9 188.5L566.9 197L571.4 200.1L584.8 197L593.7 194L600.5 197L616.1 204.9L622.4 197L637.4 188.5L638.5 188.3L639.2 188.5L653.1 197L660.9 205.1L661.7 205.5L673.2 214L683.2 221.6L684.7 222.4L696.6 230.9L683.2 230.9L660.9 230.9L638.5 230.9L616.1 230.9L593.7 230.9L571.4 230.9L549 230.9L526.6 230.9L504.3 230.9L481.9 230.9L459.5 230.9L437.1 230.9L414.8 230.9L392.4 230.9L370 230.9L347.7 230.9L325.3 230.9L302.9 230.9L280.6 230.9L258.2 230.9L235.8 230.9L213.4 230.9L191.1 230.9L168.7 230.9L146.3 230.9L124 230.9L101.6 230.9L101.6 222.4L101.6 214L101.6 205.5L101.6 197L101.6 188.5L101.6 180.1L101.6 171.6L101.6 163.1L101.6 154.7L101.6 146.2L101.6 137.7L101.6 129.2L101.6 120.8L101.6 112.3L101.6 103.8L101.6 95.4L101.6 86.9L101.6 78.4L101.6 70L101.6 61.5L101.6 53L101.6 44.6L101.6 36.1L101.6 27.6L101.6 19.1L101.6 10.7L101.6 2.2ZM325.3 79.3L311.9 86.9L319.3 95.4L325.3 96.2L343.2 95.4L345.4 86.9ZM370 83.5L348.6 86.9L370 92.7L379 86.9ZM571.4 23.3L554.4 27.6L549.7 36.1L555.7 44.6L571.4 52L580.3 53L593.7 58.1L598.2 53L607.9 44.6L611.1 36.1L609.4 27.6L593.7 23.2ZM681.7 53L683.2 52.5L684.1 53L693.4 61.5L697.3 70L698.6 78.4L695.2 86.9L683.2 90.3L668.9 86.9L663.4 78.4L667 70L670 61.5Z"/>
<path fill="#26ffd1" d="M101.6 -3L124 -3L146.3 -3L168.7 -3L191.1 -3L213.4 -3L235.8 -3L258.2 -3L280.6 -3L302.9 -3L325.3 -3L347.7 -3L370 -3L392.4 -3L414.8 -3L437.1 -3L459.5 -3L481.9 -3L504.3 -3L526.6 -3L549 -3L571.4 -3L593.7 -3L616.1 -3L617.5 -3L617.5 2.2L629.2 10.7L638.5 13.5L653.4 19.1L648.4 27.6L648.6 36.1L651.9 44.6L652.4 53L653.5 61.5L654.7 70L656.4 78.4L653.4 86.9L638.5 91.1L616.1 88.1L593.7 88.5L571.4 92.3L549 95.4L549 95.4L526.6 95.9L519.2 95.4L504.3 93L481.9 95.4L459.5 95.4L459.5 95.4L442.7 103.8L437.1 106.7L414.8 112.3L414.8 112.3L402.4 120.8L408.6 129.2L414.8 137.7L414.8 137.7L422.2 146.2L429.7 154.7L437.1 163.1L437.1 163.1L459.5 171.6L459.5 171.6L481.9 171.6L504.3 173.4L526.6 176.7L549 178L556.5 180.1L562.4 188.5L563.9 197L571.4 202.1L593.7 197L611.6 205.5L616.1 214L616.1 222.4L616.1 222.4L616.1 222.4L616.1 214L617.9 205.5L625.1 197L638.5 189.8L650.7 197L659 205.5L660.9 209.7L666.4 214L672 222.4L683.2 230.9L660.9 230.9L638.5 230.9L616.1 230.9L593.7 230.9L593.7 230.9L593.7 230.9L571.4 230.9L549 230.9L526.6 230.9L504.3 230.9L481.9 230.9L459.5 230.9L437.1 230.9L414.8 230.9L392.4 230.9L370 230.9L347.7 230.9L325.3 230.9L302.9 230.9L280.6 230.9L258.2 230.9L235.8 230.9L213.4 230.9L191.1 230.9L168.7 230.9L146.3 230.9L124 230.9L101.6 230.9L101.6 222.4L101.6 214L101.6 205.5L101.6 197L101.6 188.5L101.6 180.1L101.6 171.6L101.6 163.1L101.6 154.7L101.6 146.2L101.6 137.7L101.6 129.2L101.6 120.8L101.6 112.3L101.6 103.8L101.6 95.4L101.6 86.9L101.6 78.4L101.6 70L101.6 61.5L101.6 53L101.6 44.6L101.6 36.1L101.6 27.6L101.6 19.1L101.6 10.7L101.6 2.2ZM325.3 77.3L320.8 78.4L302.9 86.9L302.9 86.9L302.9 86.9L310.4 95.4L325.3 97.5L347.7 96.8L358.9 95.4L370 94.2L381.2 86.9L370 82.7L347.7 84.8L330.9 78.4ZM549 27.6L549 27.6L543.4 36.1L549 44.6L549 44.6L566.9 53L568.4 61.5L571.4 64.9L584.8 70L586.9 78.4L593.7 81.8L598.7 78.4L598.2 70L599.7 61.5L607.2 53L612.4 44.6L616.1 36.1L616.1 36.1L616.1 27.6L616.1 27.6L593.7 21.3L571.4 21.9ZM698.1 -3L705.6 -3L728 -3L750.3 -3L772.7 -3L795.1 -3L817.4 -3L839.8 -3L862.2 -3L884.6 -3L906.9 -3L906.9 2.2L906.9 10.7L906.9 19.1L906.9 27.6L906.9 36.1L906.9 44.6L906.9 53L906.9 61.5L906.9 70L906.9 78.4L906.9 86.9L906.9 95.4L906.9 103.8L906.9 112.3L906.9 120.8L906.9 129.2L906.9 137.7L906.9 146.2L906.9 154.7L906.9 163.1L906.9 171.6L906.9 180.1L906.9 188.5L906.9 197L906.9 205.5L906.9 214L906.9 222.4L906.9 230.9L884.6 230.9L862.2 230.9L841.8 230.9L849.5 222.4L862.2 214L862.2 214L872.3 205.5L881.1 197L884.5 193.5L891.7 188.5L893.5 180.1L890.3 171.6L884.5 166.7L881.4 163.1L871.8 154.7L862.2 146.2L862.2 146.2L852.5 137.7L846.2 129.2L843.5 120.8L841.8 112.3L839.8 110.4L830.9 103.8L817.4 95.4L817.4 95.4L795.1 86.9L795.1 86.9L789.5 78.4L772.7 70L772.7 61.5L772.7 61.5L767.1 53L765.2 44.6L750.3 36.1L750.3 36.1L750.3 36.1L743.9 44.6L736.9 53L728 58.7L722.4 53L717.2 44.6L724.9 36.1L728 31.8L739.1 27.6L741.9 19.1L728 14.9L705.6 19.1L705.6 19.1L683.2 20.2L674.8 19.1L660.9 10.7L683.2 5.6L698.1 2.2ZM674.9 61.5L683.2 55.8L689.6 61.5L693.8 70L695.6 78.4L690.7 86.9L683.2 89L674.3 86.9L667.2 78.4L671 70ZM739.1 78.4L750.3 71.7L763.1 78.4L762.8 86.9L755.7 95.4L750.3 96.5L746.7 95.4L740.2 86.9Z"/>
<path fill="#3cffba" d="M101.6 -3L124 -3L146.3 -3L168.7 -3L191.1 -3L213.4 -3L235.8 -3L258.2 -3L280.6 -3L302.9 -3L325.3 -3L347.7 -3L370 -3L392.4 -3L414.8 -3L437.1 -3L459.5 -3L481.9 -3L504.3 -3L526.6 -3L549 -3L565.4 -3L565.4 2.2L571.4 3.2L580.3 2.2L580.3 -3L593.7 -3L607.2 -3L607.2 2.2L616.1 9L618 10.7L638.5 16.9L644.4 19.1L645.4 27.6L646.2 36.1L649.2 44.6L649.9 53L651 61.5L652.3 70L653.7 78.4L650.4 86.9L638.5 90.3L616.1 86.9L616.1 86.9L606.2 78.4L604.9 70L608.7 61.5L616.1 53L616.1 53L617 44.6L621.5 36.1L622.8 27.6L616.1 20.3L593.7 19.5L571.4 20.5L549 23.4L540.1 27.6L536.7 36.1L540.1 44.6L549 47.7L560.2 53L563.9 61.5L571.4 70L571.4 70L576.5 78.4L593.7 86.9L571.4 88.7L549 93L526.6 95.1L504.3 91.5L481.9 93.7L459.5 93.7L455.7 95.4L439.4 103.8L437.1 105L414.8 109.8L405.8 112.3L394.9 120.8L401.1 129.2L407.3 137.7L413.5 146.2L414.8 147.9L420.7 154.7L428.2 163.1L436 171.6L437.1 173.3L459.5 174.1L481.9 174.1L504.3 175.7L526.6 178.7L544.5 180.1L549 180.7L557.9 188.5L560.9 197L571.4 204.1L593.7 199.6L606.3 205.5L609.4 214L608.7 222.4L593.7 228.1L589.3 230.9L571.4 230.9L549 230.9L526.6 230.9L504.3 230.9L481.9 230.9L459.5 230.9L437.1 230.9L414.8 230.9L392.4 230.9L370 230.9L347.7 230.9L325.3 230.9L302.9 230.9L280.6 230.9L258.2 230.9L235.8 230.9L213.4 230.9L191.1 230.9L168.7 230.9L146.3 230.9L124 230.9L101.6 230.9L101.6 222.4L101.6 214L101.6 205.5L101.6 197L101.6 188.5L101.6 180.1L101.6 171.6L101.6 163.1L101.6 154.7L101.6 146.2L101.6 137.7L101.6 129.2L101.6 120.8L101.6 112.3L101.6 103.8L101.6 95.4L101.6 86.9L101.6 78.4L101.6 70L101.6 61.5L101.6 53L101.6 44.6L101.6 36.1L101.6 27.6L101.6 19.1L101.6 10.7L101.6 2.2ZM325.3 76L315.5 78.4L302.9 84.4L297.6 86.9L302.2 95.4L302.9 95.7L325.3 98.8L347.7 98.5L370 95.9L371.5 95.4L383.5 86.9L370 81.8L347.7 82.2L337.6 78.4ZM732.4 -3L750.3 -3L772.7 -3L795.1 -3L817.4 -3L839.8 -3L862.2 -3L884.6 -3L906.9 -3L906.9 2.2L906.9 10.7L906.9 19.1L906.9 27.6L906.9 36.1L906.9 44.6L906.9 53L906.9 61.5L906.9 70L906.9 78.4L906.9 86.9L906.9 95.4L906.9 103.8L906.9 112.3L906.9 120.8L906.9 129.2L906.9 137.7L906.9 146.2L906.9 154.7L906.9 163.1L906.9 171.6L906.9 180.1L906.9 188.5L906.9 197L906.9 205.5L906.9 214L906.9 222.4L906.9 230.9L884.6 230.9L862.2 230.9L847.9 230.9L855.4 222.4L862.2 217.9L866.7 214L876.4 205.5L884.6 197.7L885.7 197L897.8 188.5L898.9 180.1L895.3 171.6L885.4 163.1L884.6 162.6L875.6 154.7L866.2 146.2L862.2 142.3L857 137.7L850 129.2L848 120.8L845.9 112.3L839.8 106.4L836.2 103.8L824.2 95.4L817.4 90.3L808.5 86.9L796.8 78.4L795.1 76.7L786.1 70L781.6 61.5L774.2 53L773.6 44.6L773.8 36.1L772.7 34.4L754.8 27.6L759.9 19.1L754.8 10.7L750.3 9L732.4 2.2ZM669.8 10.7L683.2 7.6L705.6 3.9L723.5 10.7L705.6 14.1L683.2 17ZM719.8 44.6L728 36.5L740.1 44.6L731.5 53L728 55.3L725.7 53ZM679.9 61.5L683.2 59.2L685.8 61.5L690.3 70L692.7 78.4L686.2 86.9L683.2 87.7L679.6 86.9L671.1 78.4L675.1 70ZM742.5 78.4L750.3 73.7L759.3 78.4L759.8 86.9L752.5 95.4L750.3 95.8L748.9 95.4L742.6 86.9ZM627.7 197L638.5 191.2L648.2 197L656.9 205.5L660.4 214L660.1 222.4L660 230.9L638.5 230.9L617 230.9L619.9 222.4L618.6 214L620.1 205.5Z"/>
<path fill="#50ffa7" d="M101.6 -3L124 -3L146.3 -3L168.7 -3L191.1 -3L213.4 -3L235.8 -3L258.2 -3L280.6 -3L302.9 -3L325.3 -3L347.7 -3L370 -3L392.4 -3L414.8 -3L437.1 -3L459.5 -3L481.9 -3L504.3 -3L526.6 -3L549 -3L556.5 -3L556.5 2.2L571.4 4.6L593.7 2.2L608.7 10.7L593.7 16.3L571.4 19.1L549 19.1L526.6 19.1L526.6 19.1L526.6 19.1L531.1 27.6L530 36.1L531.1 44.6L526.6 50.9L525.9 53L525.7 61.5L526.6 64.3L528.1 61.5L531.1 53L549 50.9L553.5 53L559.4 61.5L554.6 70L557.9 78.4L565.8 86.9L549 90.5L526.6 93.5L504.3 90L481.9 92L459.5 92L451.9 95.4L437.1 103.2L432.7 103.8L414.8 107.2L396.9 103.8L392.4 102.1L387.9 103.8L392.4 107.2L396.9 112.3L392.4 115.9L388.3 120.8L392.4 127.6L393.7 129.2L399.9 137.7L406.1 146.2L412.8 154.7L414.8 158L419.3 163.1L429.3 171.6L434.9 180.1L437.1 183.5L441.6 180.1L459.5 176.7L481.9 176.7L504.3 177.9L521 180.1L526.6 181.2L549 184.6L553.5 188.5L557.9 197L570.1 205.5L571.4 207.2L575.8 205.5L593.7 202.1L600.9 205.5L602.7 214L601.2 222.4L593.7 225.2L584.8 230.9L571.4 230.9L549 230.9L526.6 230.9L504.3 230.9L481.9 230.9L459.5 230.9L437.1 230.9L414.8 230.9L392.4 230.9L370 230.9L347.7 230.9L325.3 230.9L302.9 230.9L280.6 230.9L258.2 230.9L235.8 230.9L213.4 230.9L191.1 230.9L168.7 230.9L146.3 230.9L124 230.9L101.6 230.9L101.6 222.4L101.6 214L101.6 205.5L101.6 197L101.6 188.5L101.6 180.1L101.6 171.6L101.6 163.1L101.6 154.7L101.6 146.2L101.6 137.7L101.6 129.2L101.6 120.8L101.6 112.3L101.6 103.8L101.6 95.4L101.6 86.9L101.6 78.4L101.6 70L101.6 61.5L101.6 53L101.6 44.6L101.6 36.1L101.6 27.6L101.6 19.1L101.6 10.7L101.6 2.2ZM325.3 74.6L310.1 78.4L302.9 81.8L292.2 86.9L297.7 95.4L302.9 97.7L325.3 100L347.7 100.2L370 99.3L380.5 95.4L385.7 86.9L370 81L347.7 79.7L344.3 78.4ZM759.3 -3L772.7 -3L795.1 -3L817.4 -3L839.8 -3L862.2 -3L884.6 -3L906.9 -3L906.9 2.2L906.9 10.7L906.9 19.1L906.9 27.6L906.9 36.1L906.9 44.6L906.9 53L906.9 61.5L906.9 70L906.9 78.4L906.9 86.9L906.9 95.4L906.9 103.8L906.9 112.3L906.9 120.8L906.9 129.2L906.9 137.7L906.9 146.2L906.9 154.7L906.9 163.1L906.9 171.6L906.9 180.1L906.9 188.5L906.9 197L906.9 205.5L906.9 214L906.9 222.4L906.9 230.9L884.6 230.9L862.2 230.9L854 230.9L861.2 222.4L862.2 221.8L871.1 214L880.5 205.5L884.6 201.6L892.4 197L903.9 188.5L904.2 180.1L900.3 171.6L890.8 163.1L884.6 159.2L879.4 154.7L870.3 146.2L862.2 138.4L861.4 137.7L853.9 129.2L852.5 120.8L850 112.3L841.3 103.8L839.8 102.1L830.9 95.4L819.7 86.9L817.4 84.8L807.1 78.4L797.3 70L795.1 66.6L790.6 61.5L783.1 53L779 44.6L780.5 36.1L775.7 27.6L775.7 19.1L775.7 10.7L772.7 7.3L759.3 2.2ZM678.7 10.7L683.2 9.7L696.6 10.7L683.2 12.8ZM629.5 27.6L638.5 20.8L642.5 27.6L643.8 36.1L646.5 44.6L647.3 53L648.4 61.5L649.9 70L651 78.4L647.4 86.9L638.5 89.4L621.7 86.9L616.1 80.5L613.6 78.4L611.6 70L616.1 63.2L617 61.5L621.1 53L622.4 44.6L626.8 36.1ZM722.4 44.6L728 39L736.3 44.6L728 51.9ZM679.2 70L683.2 63.6L686.8 70L689.7 78.4L683.2 85.8L674.9 78.4ZM745.9 78.4L750.3 75.7L755.4 78.4L756.8 86.9L750.3 94.2L745 86.9ZM630.4 197L638.5 192.7L645.8 197L654.7 205.5L657.7 214L655.6 222.4L654.6 230.9L638.5 230.9L622.4 230.9L623.8 222.4L621 214L622.2 205.5Z"/>
<path fill="#66ff90" d="M101.6 -3L124 -3L146.3 -3L168.7 -3L191.1 -3L213.4 -3L235.8 -3L258.2 -3L280.6 -3L302.9 -3L325.3 -3L347.7 -3L370 -3L392.4 -3L414.8 -3L437.1 -3L459.5 -3L481.9 -3L504.3 -3L525.8 -3L525.8 2.2L525.8 10.7L522.6 19.1L524.4 27.6L524.4 36.1L523.9 44.6L521.2 53L520.1 61.5L521 70L526.6 72.8L541.5 78.4L549 83.3L554.6 86.9L549 88.1L526.6 91.8L504.3 88.6L481.9 90.3L459.5 90.3L448 95.4L437.1 101.1L419.3 103.8L414.8 104.7L410.3 103.8L392.4 97.1L389.4 95.4L387.9 86.9L370 80.1L352.1 78.4L347.7 77.4L325.3 73.3L304.7 78.4L302.9 79.3L286.8 86.9L293.2 95.4L302.9 99.8L325.3 101.3L347.7 101.9L370 102.7L374.5 103.8L387.9 112.3L382.2 120.8L387.3 129.2L392.4 137.7L392.4 137.7L398.6 146.2L407 154.7L411.9 163.1L414.8 165.7L422.6 171.6L428.2 180.1L433.4 188.5L437.1 191.1L441.6 188.5L455 180.1L459.5 179.2L481.9 179.2L504.3 180.1L504.3 180.1L526.6 184.6L549 188.5L549 188.5L555 197L566.3 205.5L571.4 212.3L589.3 205.5L593.7 204.6L595.5 205.5L596 214L593.7 222.4L593.7 222.4L580.3 230.9L571.4 230.9L549 230.9L526.6 230.9L504.3 230.9L481.9 230.9L459.5 230.9L437.1 230.9L414.8 230.9L392.4 230.9L370 230.9L347.7 230.9L325.3 230.9L302.9 230.9L280.6 230.9L258.2 230.9L235.8 230.9L213.4 230.9L191.1 230.9L168.7 230.9L146.3 230.9L124 230.9L101.6 230.9L101.6 222.4L101.6 214L101.6 205.5L101.6 197L101.6 188.5L101.6 180.1L101.6 171.6L101.6 163.1L101.6 154.7L101.6 146.2L101.6 137.7L101.6 129.2L101.6 120.8L101.6 112.3L101.6 103.8L101.6 95.4L101.6 86.9L101.6 78.4L101.6 70L101.6 61.5L101.6 53L101.6 44.6L101.6 36.1L101.6 27.6L101.6 19.1L101.6 10.7L101.6 2.2ZM370 34.4L365.6 36.1L370 41.2L392.4 36.1ZM459.5 218.2L457.4 222.4L459.5 225.9L465.1 222.4ZM777.2 -3L795.1 -3L817.4 -3L839.8 -3L862.2 -3L884.6 -3L906.9 -3L906.9 2.2L906.9 10.7L906.9 19.1L906.9 27.6L906.9 36.1L906.9 44.6L906.9 53L906.9 61.5L906.9 70L906.9 78.4L906.9 86.9L906.9 95.4L906.9 103.8L906.9 112.3L906.9 120.8L906.9 129.2L906.9 137.7L906.9 146.2L906.9 154.7L906.9 163.1L906.9 171.6L906.9 175L905.3 171.6L896.2 163.1L884.6 155.8L883.3 154.7L874.4 146.2L866.3 137.7L862.2 134.2L857.7 129.2L857 120.8L854 112.3L845.8 103.8L839.8 97.1L837.6 95.4L826.4 86.9L817.4 78.4L817.4 78.4L804 70L798.4 61.5L795.1 56.4L792.1 53L784.3 44.6L787.2 36.1L784.6 27.6L784.6 19.1L784.6 10.7L777.2 2.2ZM531.1 10.7L549 3.9L571.4 6.1L593.7 7.3L599.7 10.7L593.7 12.9L571.4 17.1L549 14.1ZM636.2 27.6L638.5 25.9L639.5 27.6L641.3 36.1L643.8 44.6L644.8 53L645.8 61.5L647.4 70L648.3 78.4L644.4 86.9L638.5 88.6L627.3 86.9L619.6 78.4L618 70L622.6 61.5L626.1 53L627.7 44.6L632.2 36.1ZM724.9 44.6L728 41.6L732.4 44.6L728 48.5ZM537.1 61.5L549 54.7L555 61.5L549 67.1ZM683.2 70L683.2 70L683.2 70L686.7 78.4L683.2 82.4L678.7 78.4ZM749.2 78.4L750.3 77.8L751.6 78.4L753.8 86.9L750.3 90.9L747.5 86.9ZM633.1 197L638.5 194.1L643.4 197L652.6 205.5L655 214L651.2 222.4L649.2 230.9L638.5 230.9L627.7 230.9L627.6 222.4L623.4 213.9L624.4 205.5ZM899.1 197L906.9 191.1L906.9 197L906.9 205.5L906.9 214L906.9 222.4L906.9 230.9L884.6 230.9L862.2 230.9L860.1 230.9L862.2 228.5L866.3 222.4L875.6 214L884.6 205.5L884.6 205.5Z"/>
<path fill="#7dff7a" d="M101.6 -3L124 -3L146.3 -3L168.7 -3L191.1 -3L213.4 -3L235.8 -3L258.2 -3L280.6 -3L302.9 -3L325.3 -3L347.7 -3L370 -3L392.4 -3L414.8 -3L437.1 -3L459.5 -3L481.9 -3L504.3 -3L521 -3L521 2.2L521 10.7L518.5 19.1L519.9 27.6L519.9 36.1L518.6 44.6L516.6 53L514.5 61.5L512.6 70L526.6 77L530.4 78.4L544.5 86.9L526.6 90.2L504.3 87.1L481.9 88.6L459.5 88.6L444.2 95.4L437.1 99.1L414.8 100.5L401.4 95.4L392.4 92L390.2 86.9L370 79.3L361.1 78.4L347.7 75.4L325.3 72L302.9 76.2L294 78.4L281.5 86.9L288.8 95.4L302.9 101.8L325.3 102.6L347.7 103.6L352.1 103.8L370 107.2L379 112.3L376.1 120.8L381.2 129.2L386.3 137.7L391.4 146.2L392.4 147L401.2 154.7L406 163.1L414.8 170.8L415.9 171.6L421.5 180.1L426 188.5L437.1 196.2L450.6 188.5L459.5 183.5L481.9 181.8L504.3 182.4L526.6 188L529.8 188.5L526.6 190.2L522.7 197L522.2 205.5L526.6 208.9L530.2 205.5L535.6 197L549 192.8L552 197L562.4 205.5L562.4 214L571.4 217.3L582.6 222.4L575.8 230.9L571.4 230.9L549 230.9L526.6 230.9L504.3 230.9L481.9 230.9L459.5 230.9L437.1 230.9L414.8 230.9L392.4 230.9L370 230.9L347.7 230.9L325.3 230.9L302.9 230.9L280.6 230.9L258.2 230.9L235.8 230.9L213.4 230.9L191.1 230.9L168.7 230.9L146.3 230.9L124 230.9L101.6 230.9L101.6 222.4L101.6 214L101.6 205.5L101.6 197L101.6 188.5L101.6 180.1L101.6 171.6L101.6 163.1L101.6 154.7L101.6 146.2L101.6 137.7L101.6 129.2L101.6 120.8L101.6 112.3L101.6 103.8L101.6 95.4L101.6 86.9L101.6 78.4L101.6 70L101.6 61.5L101.6 53L101.6 44.6L101.6 36.1L101.6 27.6L101.6 19.1L101.6 10.7L101.6 2.2ZM124 46.2L118 53L123 61.5L124 61.8L146.3 63.8L152.4 61.5L152.4 53L146.3 50.7ZM370 31L356.6 36.1L363.2 44.6L370 45.9L387.9 44.6L392.4 43.3L400.3 36.1L392.4 33.1ZM459.5 212.7L458.5 214L454.8 222.4L459.5 230.2L471.8 222.4L461.8 214ZM549 218.2L542.9 222.4L549 226.7L560.2 222.4ZM786.1 -3L795.1 -3L817.4 -3L839.8 -3L862.2 -3L884.6 -3L906.9 -3L906.9 2.2L906.9 10.7L906.9 19.1L906.9 27.6L906.9 36.1L906.9 44.6L906.9 53L906.9 61.5L906.9 70L906.9 78.4L906.9 86.9L906.9 95.4L906.9 103.8L906.9 112.3L906.9 120.8L906.9 129.2L906.9 137.7L906.9 146.2L906.9 154.7L906.9 163.1L906.9 168.2L901.6 163.1L889 154.7L884.6 152.1L878.4 146.2L871.3 137.7L862.2 130L861.5 129.2L861.4 120.8L858.1 112.3L850.2 103.8L843.4 95.4L839.8 92L833.1 86.9L823.5 78.4L817.4 74.2L810.7 70L805.1 61.5L801 53L795.1 49.6L789.7 44.6L794 36.1L793.6 27.6L793.6 19.1L793.6 10.7L786.1 2.2ZM552 10.7L571.4 7.5L590.8 10.7L571.4 15.1ZM637.6 36.1L638.5 34.4L638.9 36.1L641.2 44.6L642.3 53L643.2 61.5L645 70L645.6 78.4L641.5 86.9L638.5 87.7L632.9 86.9L624.7 78.4L623.6 70L628.2 61.5L631 53L633.1 44.6ZM727.5 44.6L728 44.1L728.6 44.6L728 45.1ZM546 61.5L549 59.8L550.5 61.5L549 62.9ZM682.6 78.4L683.2 77.2L683.7 78.4L683.2 79ZM749.9 86.9L750.3 85.2L750.8 86.9L750.3 87.5ZM635.8 197L638.5 195.6L640.9 197L650.4 205.5L652.3 213.9L646.7 222.4L643.8 230.9L638.5 230.9L633.1 230.9L631.4 222.4L625.9 213.9L626.6 205.5ZM905.8 197L906.9 196.2L906.9 197L906.9 205.5L906.9 214L906.9 222.4L906.9 230.9L884.6 230.9L865.8 230.9L871.3 222.4L880.1 214L884.6 209.7L892.4 205.5Z"/>
<path fill="#90ff66" d="M101.6 -3L124 -3L146.3 -3L168.7 -3L191.1 -3L213.4 -3L235.8 -3L258.2 -3L280.6 -3L302.9 -3L325.3 -3L347.7 -3L370 -3L392.4 -3L414.8 -3L437.1 -3L459.5 -3L481.9 -3L504.3 -3L516.2 -3L516.2 2.2L516.2 10.7L514.4 19.1L515.4 27.6L515.4 36.1L513.2 44.6L512 53L508.9 61.5L504.3 70L504.3 70L504.3 78.4L481.9 86.9L459.5 86.9L459.5 86.9L440.3 95.4L437.1 97.1L414.8 95.4L414.8 95.4L392.4 86.9L392.4 86.9L370 78.4L370 78.4L347.7 73.3L325.3 70.6L302.9 72.8L280.6 78.4L258.2 78.4L258.2 78.4L258.2 78.4L273.1 86.9L280.6 91.1L284.3 95.4L302.9 103.8L302.9 103.8L325.3 103.8L347.7 108.1L370 112.3L370 120.8L370 120.8L375.1 129.2L380.2 137.7L385.3 146.2L392.4 152.1L395.3 154.7L400.2 163.1L407.3 171.6L414.8 180.1L414.8 180.1L418.5 188.5L428.5 197L437.1 205.5L437.1 205.5L452.4 214L452.2 222.4L455 230.9L437.1 230.9L414.8 230.9L392.4 230.9L370 230.9L347.7 230.9L325.3 230.9L302.9 230.9L280.6 230.9L258.2 230.9L235.8 230.9L213.4 230.9L191.1 230.9L168.7 230.9L146.3 230.9L124 230.9L101.6 230.9L101.6 222.4L101.6 214L101.6 205.5L101.6 197L101.6 188.5L101.6 180.1L101.6 171.6L101.6 163.1L101.6 154.7L101.6 146.2L101.6 137.7L101.6 129.2L101.6 120.8L101.6 112.3L101.6 103.8L101.6 95.4L101.6 86.9L101.6 78.4L101.6 70L101.6 61.5L101.6 53L101.6 44.6L101.6 36.1L101.6 27.6L101.6 19.1L101.6 10.7L101.6 2.2ZM124 42.4L116.5 44.6L109.1 53L116.9 61.5L124 63.3L146.3 66.1L158.5 61.5L158.5 53L146.3 48.4L131.4 44.6ZM370 27.6L370 27.6L347.7 36.1L347.7 36.1L347.7 36.1L352.8 44.6L370 47.9L392.4 45.8L399.9 44.6L408.2 36.1L392.4 30.1L370 27.6ZM795.1 -3L817.4 -3L839.8 -3L862.2 -3L884.6 -3L906.9 -3L906.9 2.2L906.9 10.7L906.9 19.1L906.9 27.6L906.9 36.1L906.9 44.6L906.9 53L906.9 61.5L906.9 70L906.9 78.4L906.9 86.9L906.9 95.4L906.9 103.8L906.9 112.3L906.9 120.8L906.9 129.2L906.9 137.7L906.9 146.2L906.9 154.7L906.9 163.1L895.7 154.7L884.5 148.1L882.5 146.2L876.3 137.7L867.8 129.2L865.9 120.8L862.2 112.3L862.2 112.3L854.7 103.8L848.8 95.4L839.8 86.9L839.8 86.9L829.6 78.4L817.4 70L817.4 70L811.8 61.5L810 53L795.1 44.6L806.3 36.1L806.3 27.6L806.3 19.1L806.3 10.7L795.1 2.2ZM560.9 10.7L571.4 9L581.8 10.7L571.4 13ZM636 53L638.5 44.6L639.7 53L640.6 61.5L642.5 70L643 78.4L638.5 86.9L629.9 78.4L629.2 70L633.8 61.5ZM514.4 86.9L526.6 81.8L535.6 86.9L526.6 88.5ZM459.5 188.5L481.9 184.3L504.3 184.7L519.2 188.5L516.9 197L515.4 205.5L526.6 214L526.6 214L536.8 222.4L549 230.9L526.6 230.9L504.3 230.9L481.9 230.9L470.7 230.9L478.5 222.4L475.2 214L459.5 205.5L459.5 197ZM535.6 205.5L549 197L558.6 205.5L549 214ZM628.7 205.5L638.5 197L648.2 205.5L649.7 214L642.2 222.4L638.5 230.9L635.3 222.4L628.3 214ZM900.3 205.5L906.9 201.2L906.9 205.5L906.9 214L906.9 222.4L906.9 230.9L884.6 230.9L871.1 230.9L876.3 222.4L884.6 214L884.6 214Z"/>
<path fill="#a7ff50" d="M101.6 -3L124 -3L146.3 -3L168.7 -3L191.1 -3L213.4 -3L235.8 -3L258.2 -3L280.6 -3L302.9 -3L325.3 -3L347.7 -3L370 -3L392.4 -3L414.8 -3L437.1 -3L459.5 -3L481.9 -3L504.3 -3L511.5 -3L511.5 2.2L511.5 10.7L510.4 19.1L511 27.6L511 36.1L507.8 44.6L507.3 53L504.3 59.8L503.7 61.5L499.8 70L495.3 78.4L481.9 83.5L459.5 83.5L446.1 86.9L437.1 93.7L414.8 90.3L405.8 86.9L392.4 83.5L379 78.4L370 75.9L347.7 71.3L334.9 70L325.3 67.4L302.9 69.1L298.5 70L280.6 73.3L258.2 73.3L254.8 78.4L258.2 83.5L264.2 86.9L279.7 95.4L280.6 96.2L294 103.8L302.9 107.2L325.3 108.9L343.2 112.3L347.7 114L356.6 120.8L368.5 129.2L370 130.9L374.1 137.7L379.2 146.2L387.9 154.7L392.4 159.7L394.4 163.1L398.4 171.6L405.8 180.1L410.3 188.5L414.8 193.6L418.2 197L423.7 205.5L437.1 208.9L446.3 214L449.6 222.4L449.7 230.9L437.1 230.9L414.8 230.9L392.4 230.9L370 230.9L347.7 230.9L325.3 230.9L302.9 230.9L280.6 230.9L258.2 230.9L235.8 230.9L213.4 230.9L191.1 230.9L168.7 230.9L146.3 230.9L124 230.9L101.6 230.9L101.6 222.4L101.6 214L101.6 205.5L101.6 197L101.6 188.5L101.6 180.1L101.6 171.6L101.6 163.1L101.6 154.7L101.6 146.2L101.6 137.7L101.6 129.2L101.6 120.8L101.6 112.3L101.6 103.8L101.6 95.4L101.6 86.9L101.6 78.4L101.6 70L101.6 61.5L101.6 53.9L110.8 61.5L124 64.9L146.3 68.4L164.6 61.5L164.6 53L146.3 46.1L140.4 44.5L124 39.9L107.6 44.5L101.6 51.3L101.6 44.6L101.6 36.1L101.6 27.6L101.6 19.1L101.6 10.7L101.6 2.2ZM347.7 26.8L345.4 27.6L341 36.1L343.7 44.6L347.7 46.7L370 50L392.4 47.2L408.8 44.5L414.8 37.8L437.1 37.8L437.6 36.1L437.1 34.4L414.8 34.4L396.9 27.6L392.4 26.8L370 22.5ZM842 -3L862.2 -3L884.6 -3L906.9 -3L906.9 2.2L906.9 10.7L906.9 19.1L906.9 27.6L906.9 36.1L906.9 44.6L906.9 53L906.9 61.5L906.9 70L906.9 78.4L906.9 86.9L906.9 95.4L906.9 103.8L906.9 112.3L906.9 120.8L906.9 129.2L906.9 137.7L906.9 146.2L906.9 154.7L906.9 158L902.4 154.7L888.5 146.2L884.6 142.6L881.2 137.7L874.5 129.2L870.4 120.8L865.5 112.3L862.2 107.2L859.2 103.8L854.1 95.4L848.8 86.9L839.8 81.8L835.7 78.4L839.8 71.7L842 70L842 61.5L842 53L842 44.6L842 36.1L842 27.6L842 19.1L842 10.7L842 2.2ZM569.9 10.7L571.4 10.4L572.9 10.7L571.4 11ZM634.8 70L638.5 63.2L640.1 70L640.3 78.4L638.5 81.8L635 78.4ZM472.9 188.5L481.9 186.8L504.3 187L510.2 188.5L511.1 197L508.7 205.5L519.9 214L526.6 219L530.7 222.4L540.1 230.9L526.6 230.9L504.3 230.9L482.8 230.9L484.4 222.4L485.8 214L491.5 205.5L481.9 202.9L469.8 197ZM540.9 205.5L549 200.4L554.8 205.5L549 210.6ZM630.9 205.5L638.5 198.9L646.1 205.5L647 213.9L638.5 222L630.8 214ZM893.5 214L906.9 206.3L906.9 214L906.9 222.4L906.9 230.9L884.6 230.9L876.5 230.9L881.2 222.4L884.5 219Z"/>
<path fill="#baff3c" d="M101.6 -3L124 -3L146.3 -3L168.7 -3L191.1 -3L213.4 -3L235.8 -3L258.2 -3L280.6 -3L302.9 -3L325.3 -3L347.7 -3L370 -3L392.4 -3L414.8 -3L437.1 -3L459.5 -3L481.9 -3L504.3 -3L506.7 -3L506.7 2.2L506.7 10.7L506.3 19.1L506.5 27.6L506.5 36.1L504.3 41.2L503.3 44.6L503.2 53L500.3 61.5L495.3 70L486.4 78.4L481.9 80.1L459.5 80.1L437.1 85.2L414.8 85.2L392.4 80.1L387.9 78.4L370 73.3L352.1 70L347.7 66.6L325.3 62.3L302.9 64L280.6 68.8L258.2 69.1L256.9 70L251.5 78.4L256.7 86.9L258.2 87.7L274.3 95.4L280.6 101.3L285 103.8L302.9 110.6L316.4 112.3L325.3 112.9L346.2 120.8L347.7 122.5L359.6 129.2L367.1 137.7L370 141.1L373.1 146.2L379 154.7L385 163.1L389.4 171.6L392.4 175L396.9 180.1L401.4 188.5L407.3 197L411.8 205.5L414.8 208.9L437.1 212.3L440.2 214L447 222.4L444.3 230.9L437.1 230.9L414.8 230.9L392.4 230.9L370 230.9L347.7 230.9L325.3 230.9L302.9 230.9L280.6 230.9L258.2 230.9L235.8 230.9L213.4 230.9L191.1 230.9L168.7 230.9L146.3 230.9L124 230.9L101.6 230.9L101.6 222.4L101.6 214L101.6 205.5L101.6 197L101.6 188.5L101.6 180.1L101.6 171.6L101.6 163.1L101.6 154.7L101.6 146.2L101.6 137.7L101.6 129.2L101.6 120.8L101.6 112.3L101.6 103.8L101.6 95.4L101.6 86.9L101.6 78.4L101.6 70L101.6 61.5L101.6 58.9L104.7 61.5L124 66.5L143.4 70L146.3 70.6L150.8 70L168.7 63.2L169.4 61.5L169.4 53L168.7 50.9L151.9 44.6L146.3 43.7L124 37.4L101.6 41.2L101.6 36.1L101.6 27.6L101.6 19.1L101.6 10.7L101.6 2.2ZM370 18.3L361.1 19.1L347.7 21.7L332 27.6L334.2 36.1L335.8 44.6L347.7 50.9L370 52L392.4 48.7L414.8 46.2L437.1 47.9L438.6 44.6L440.6 36.1L439.4 27.6L437.1 24.2L414.8 24.2L392.4 21.7L379 19.1ZM855.5 -3L862.2 -3L884.6 -3L906.9 -3L906.9 2.2L906.9 10.7L906.9 19.1L906.9 27.6L906.9 36.1L906.9 44.6L906.9 53L906.9 61.5L906.9 70L906.9 78.4L906.9 86.9L906.9 95.4L906.9 103.8L906.9 112.3L906.9 120.8L906.9 129.2L906.9 137.7L906.9 146.2L906.9 153L896.4 146.2L887.5 137.7L884.5 134.3L881.2 129.2L874.9 120.8L868.9 112.3L864 103.8L862.2 100.5L859.5 95.4L857.7 86.9L848.8 78.4L855.5 70L855.5 61.5L855.5 53L855.5 44.6L855.5 36.1L855.5 27.6L855.5 19.1L855.5 10.7L855.5 2.2ZM480.2 197L481.9 194.2L504.3 194.2L505.2 197L504.3 199.8L481.9 197.9ZM546.3 205.5L549 203.8L550.9 205.5L549 207.2ZM633.1 205.5L638.5 200.8L643.9 205.5L644.3 214L638.5 219.5L633.2 214ZM493.7 214L504.3 207.2L513.2 214L524.4 222.4L526.6 225.8L531.1 230.9L526.6 230.9L504.3 230.9L488.2 230.9L489.3 222.4ZM902.4 214L906.9 211.4L906.9 214L906.9 222.4L906.9 230.9L884.6 230.9L881.9 230.9L884.5 225.8L887.5 222.4Z"/>
<path fill="#d1ff26" d="M101.6 -3L124 -3L146.3 -3L168.7 -3L191.1 -3L213.4 -3L235.8 -3L258.2 -3L280.6 -3L302.9 -3L325.3 -3L347.7 -3L370 -3L392.4 -3L414.8 -3L437.1 -3L459.5 -3L481.9 -3L497.5 -3L497.5 2.2L499.8 10.7L501.6 19.1L502.3 27.6L502.6 36.1L500.3 44.5L500.1 53L497 61.5L490.8 70L481.9 76.7L459.5 73.3L446.1 78.4L437.1 80.1L414.8 80.1L405.8 78.4L392.4 77.2L370 70.8L365.6 70L352.1 61.5L370 54.7L374.5 53L392.4 50.1L414.8 51.3L423.7 53L437.1 61.5L441.6 53L443.1 44.6L443.6 36.1L446.1 27.6L450.6 19.1L437.1 14.1L414.8 17.4L392.4 18.6L370 15.8L347.7 17.4L334.2 19.1L325.3 22.5L320.8 27.6L325.3 32.7L327.5 36.1L327.9 44.6L325.3 47.9L320.8 53L302.9 59.8L296.2 61.5L280.6 65.4L258.2 66.6L253.1 70L248.1 78.4L252.2 86.9L258.2 90.3L268.9 95.4L279.5 103.8L280.6 105.1L299.6 112.3L302.9 112.9L325.3 114.6L341.7 120.8L347.7 127.6L350.7 129.2L358.1 137.7L365.6 146.2L370 154.7L370 154.7L373.8 163.1L380.5 171.6L387.9 180.1L392.4 188.5L392.4 188.5L396.1 197L402.8 205.5L410.3 214L414.8 222.4L437.1 215.2L444.5 222.4L438.9 230.9L437.1 230.9L428.2 230.9L414.8 222.4L410.3 230.9L392.4 230.9L370 230.9L347.7 230.9L325.3 230.9L302.9 230.9L280.6 230.9L258.2 230.9L235.8 230.9L213.4 230.9L191.1 230.9L168.7 230.9L146.3 230.9L124 230.9L101.6 230.9L101.6 222.4L101.6 214L101.6 205.5L101.6 197L101.6 188.5L101.6 180.1L101.6 171.6L101.6 163.1L101.6 154.7L101.6 146.2L101.6 137.7L101.6 129.2L101.6 120.8L101.6 112.3L101.6 103.8L101.6 95.4L101.6 86.9L101.6 78.4L101.6 70L101.6 62.5L124 68.1L134.4 70L146.3 72.7L164.2 70L168.7 68.3L171.5 61.5L171.5 53L168.7 44.6L168.7 44.6L146.3 41.2L128.4 36.1L124 34.4L101.6 34.4L101.6 27.6L101.6 19.1L101.6 10.7L101.6 2.2ZM865.5 -3L884.6 -3L906.9 -3L906.9 2.2L906.9 10.7L906.9 19.1L906.9 27.6L906.9 36.1L906.9 44.6L906.9 53L906.9 61.5L906.9 70L906.9 78.4L906.9 86.9L906.9 95.4L906.9 103.8L906.9 112.3L906.9 120.8L906.9 129.2L906.9 137.7L906.9 146.2L906.9 147.9L904.3 146.2L896.5 137.7L889 129.2L884.6 126.7L879.3 120.8L872.2 112.3L869.3 103.8L865.5 95.4L865.5 86.9L865.5 78.4L865.5 70L865.5 61.5L865.5 53L865.5 44.6L865.5 36.1L865.5 27.6L865.5 19.1L865.5 10.7L865.5 2.2ZM635.2 205.5L638.5 202.7L641.7 205.5L641.6 214L638.5 216.9L635.6 214ZM501.6 214L504.3 212.3L506.5 214L517.7 222.4L522.2 230.9L504.3 230.9L493.5 230.9L494.3 222.4ZM896.5 222.4L906.9 216.5L906.9 222.4L906.9 230.9L889 230.9Z"/>
<path fill="#e4ff13" d="M101.6 -3L124 -3L146.3 -3L168.7 -3L191.1 -3L213.4 -3L235.8 -3L258.2 -3L280.6 -3L302.9 -3L325.3 -3L347.7 -3L370 -3L392.4 -3L414.8 -3L437.1 -3L453.6 -3L453.6 2.2L437.1 8.4L428.2 10.7L414.8 14.1L392.4 17.6L370 13.2L347.7 14.1L325.3 16.9L319.3 19.1L311.9 27.6L316.4 36.1L319.3 44.6L311.9 53L302.9 56.4L282.8 61.5L280.6 62.1L258.2 64L249.2 70L244.8 78.4L247.8 86.9L258.2 92.8L263.6 95.4L277.5 103.8L280.6 107.7L292.9 112.3L302.9 114.2L325.3 116.3L337.2 120.8L344.1 129.2L347.7 136L349.2 137.7L356.6 146.2L362.1 154.7L365.6 163.1L370 169.9L371.5 171.6L379 180.1L384.5 188.5L387.9 197L392.4 203.8L393.9 205.5L401.4 213.9L403.6 222.4L401.4 230.9L392.4 230.9L370 230.9L347.7 230.9L325.3 230.9L302.9 230.9L280.6 230.9L258.2 230.9L235.8 230.9L213.4 230.9L191.1 230.9L168.7 230.9L146.3 230.9L124 230.9L101.6 230.9L101.6 222.4L101.6 214L101.6 205.5L101.6 197L101.6 188.5L101.6 180.1L101.6 171.6L101.6 163.1L101.6 154.7L101.6 146.2L101.6 137.7L101.6 129.2L101.6 120.8L101.6 112.3L101.6 103.8L101.6 95.4L101.6 86.9L101.6 78.4L101.6 70L101.6 64.5L124 69.7L125.5 70L146.3 74.7L168.7 71.3L170.2 70L173.5 61.5L173.5 53L170.9 44.6L168.7 43.2L146.3 38.6L137.4 36.1L124 31L101.6 31L101.6 27.6L101.6 19.1L101.6 10.7L101.6 2.2ZM477.4 -3L481.9 -3L484.1 -3L484.1 2.2L490.8 10.7L496.2 19.1L498.5 27.6L499.2 36.1L497.3 44.6L497 53L493.6 61.5L486.4 70L481.9 73.3L468.5 70L459.5 63.2L456.3 61.5L450.6 53L447.6 44.6L446.6 36.1L452.8 27.6L459.5 22.5L464 19.1L468.5 10.7L477.4 2.2ZM872.2 -3L884.6 -3L906.9 -3L906.9 2.2L906.9 10.7L906.9 19.1L906.9 27.6L906.9 36.1L906.9 44.6L906.9 53L906.9 61.5L906.9 70L906.9 78.4L906.9 86.9L906.9 95.4L906.9 103.8L906.9 112.3L906.9 120.8L906.9 129.2L906.9 137.7L906.9 139.4L905.4 137.7L898 129.2L884.6 121.6L883.8 120.8L875.6 112.3L874.7 103.8L872.2 95.4L872.2 86.9L872.2 78.4L872.2 70L872.2 61.5L872.2 53L872.2 44.6L872.2 36.1L872.2 27.6L872.2 19.1L872.2 10.7L872.2 2.2ZM383.5 53L392.4 51.6L405.8 53L392.4 58.1ZM361.1 61.5L370 58.1L383.5 61.5L392.4 63.7L414.8 68.3L419.3 70L414.8 71.7L392.4 74.6L376 70L370 66.6ZM637.4 205.5L638.5 204.5L639.6 205.5L638.9 214L638.5 214.4L638.1 214ZM422.7 222.4L437.1 217.8L441.9 222.4L437.1 228.6ZM499.3 222.4L504.3 217.3L511 222.4L513.2 230.9L504.3 230.9L498.9 230.9ZM905.4 222.4L906.9 221.6L906.9 222.4L906.9 230.9L898 230.9Z"/>
<path fill="#fbf100" d="M101.6 -3L124 -3L146.3 -3L168.7 -3L191.1 -3L213.4 -3L235.8 -3L258.2 -3L280.6 -3L302.9 -3L325.3 -3L347.7 -3L370 -3L392.4 -3L414.8 -3L437.1 -3L444.6 -3L444.6 2.2L437.1 5L414.8 10.7L414.8 10.7L392.4 16.6L370 10.7L370 10.7L347.7 10.7L347.7 10.7L325.3 13.5L310.4 19.1L302.9 27.6L302.9 27.6L302.9 36.1L302.9 36.1L310.4 44.6L302.9 53L302.9 53L280.6 59.4L258.2 61.5L258.2 61.5L245.4 70L241.4 78.4L243.3 86.9L258.2 95.4L258.2 95.4L275.4 103.8L280.6 110.2L286.2 112.3L302.9 115.5L325.3 118L332.8 120.8L338.7 129.2L343.2 137.7L347.7 146.2L347.7 146.2L354.2 154.7L358.9 163.1L365.6 171.6L370 180.1L370 180.1L376.6 188.5L381.2 197L388.7 205.5L392.4 214L392.4 222.4L392.4 230.9L370 230.9L347.7 230.9L325.3 230.9L302.9 230.9L280.6 230.9L258.2 230.9L235.8 230.9L213.4 230.9L191.1 230.9L168.7 230.9L146.3 230.9L124 230.9L101.6 230.9L101.6 222.4L101.6 214L101.6 205.5L101.6 197L101.6 188.5L101.6 180.1L101.6 171.6L101.6 163.1L101.6 154.7L101.6 146.2L101.6 137.7L101.6 129.2L101.6 120.8L101.6 112.3L101.6 103.8L101.6 95.4L101.6 86.9L101.6 78.4L101.6 70L101.6 66.6L116.5 70L124 71.4L146.3 76.7L168.7 73.3L172.4 70L175.6 61.5L175.6 53L173 44.6L168.7 41.8L146.3 36.1L146.3 36.1L124 27.6L124 27.6L101.6 27.6L101.6 19.1L101.6 10.7L101.6 2.2ZM879 -3L884.6 -3L906.9 -3L906.9 2.2L906.9 10.7L906.9 19.1L906.9 27.6L906.9 36.1L906.9 44.6L906.9 53L906.9 61.5L906.9 70L906.9 78.4L906.9 86.9L906.9 95.4L906.9 103.8L906.9 112.3L906.9 120.8L906.9 129.2L890.1 120.8L884.6 118L879 112.3L880.1 103.8L879 95.4L879 86.9L879 78.4L879 70L879 61.5L879 53L879 44.6L879 36.1L879 27.6L879 19.1L879 10.7L879 2.2ZM470.7 19.1L481.9 10.7L490.8 19.1L494.7 27.6L495.9 36.1L494.3 44.6L493.9 53L490.3 61.5L481.9 70L465.1 61.5L459.5 53L459.5 53L452.1 44.6L449.6 36.1L459.5 27.6L459.5 27.6ZM385 70L392.4 67.1L403.6 70L392.4 72.1ZM430.6 222.4L437.1 220.3L439.3 222.4L437.1 225.2Z"/>
<path fill="#ffdb00" d="M101.6 -3L124 -3L146.3 -3L168.7 -3L191.1 -3L213.4 -3L235.8 -3L258.2 -3L280.6 -3L302.9 -3L325.3 -3L347.7 -3L370 -3L392.4 -3L414.8 -3L436.3 -3L436.3 2.2L414.8 9L410.9 10.7L392.4 15.6L373.9 10.7L370 9L347.7 8.6L325.3 10.3L323.1 10.7L302.9 18.3L302.3 19.1L299.6 27.6L299.3 36.1L302 44.6L294 53L280.6 56.8L258.2 58.1L252.8 61.5L241.6 70L238.1 78.4L238.8 86.9L244.8 95.4L258.2 96.4L273.3 103.8L280.2 112.3L280.6 112.6L302.9 116.8L325.3 119.7L328.3 120.8L333.4 129.2L337.8 137.7L342.3 146.2L346.8 154.7L347.7 156.4L352.1 163.1L360.2 171.6L364.7 180.1L369.3 188.5L370 190.2L374.5 197L384.2 205.5L387 213.9L383.5 222.4L379 230.9L370 230.9L347.7 230.9L325.3 230.9L302.9 230.9L280.6 230.9L258.2 230.9L235.8 230.9L213.4 230.9L191.1 230.9L168.7 230.9L146.3 230.9L124 230.9L101.6 230.9L101.6 222.4L101.6 214L101.6 205.5L101.6 197L101.6 188.5L101.6 180.1L101.6 171.6L101.6 163.1L101.6 154.7L101.6 146.2L101.6 137.7L101.6 129.2L101.6 120.8L101.6 112.3L101.6 103.8L101.6 95.4L101.6 86.9L101.6 78.4L101.6 70L101.6 68.6L107.6 70L124 73.1L145.2 78.4L146.3 78.8L148.6 78.4L168.7 75.4L174.7 70L177.7 61.5L177.7 53L175.2 44.6L168.7 40.4L151.7 36.1L146.3 31L137.4 27.6L124 22.5L101.6 22.5L101.6 19.1L101.6 10.7L101.6 2.2ZM886.8 -3L906.9 -3L906.9 2.2L906.9 10.7L906.9 19.1L906.9 27.6L906.9 36.1L906.9 44.6L906.9 53L906.9 61.5L906.9 70L906.9 78.4L906.9 86.9L906.9 95.4L906.9 103.8L906.9 112.3L906.9 120.8L906.9 125.9L896.9 120.8L884.6 114.6L882.3 112.3L884.6 105.5L886.8 103.8L886.8 95.4L886.8 86.9L886.8 78.4L886.8 70L886.8 61.5L886.8 53L886.8 44.6L886.8 36.1L886.8 27.6L886.8 19.1L886.8 10.7L886.8 2.2ZM477.4 19.1L481.9 15.8L485.5 19.1L490.8 27.6L492.5 36.1L491.3 44.6L490.7 53L486.9 61.5L481.9 66.6L471.8 61.5L465.4 53L459.5 47.9L456.5 44.6L452.6 36.1L459.5 30.2L466.2 27.6Z"/>
<path fill="#ffc100" d="M150.8 -3L168.7 -3L191.1 -3L213.4 -3L235.8 -3L258.2 -3L280.6 -3L302.9 -3L325.3 -3L347.7 -3L370 -3L392.4 -3L414.8 -3L430.9 -3L430.9 2.2L414.8 7.3L407.1 10.7L392.4 14.6L377.7 10.7L370 7.3L347.7 6.6L325.3 8.3L309.6 10.7L302.9 13.2L298.5 19.1L296.2 27.6L295.7 36.1L296.7 44.6L285 53L280.6 54.3L258.2 54.7L247.5 61.5L237.7 70L235.8 75L235 78.4L233.6 86.9L232.8 95.4L235.8 95.9L258.2 97.4L271.3 103.8L278.2 112.3L280.6 114L302.9 118L322.3 120.8L325.3 124.2L328 129.2L332.5 137.7L336.9 146.2L341.4 154.7L346.2 163.1L347.7 164.8L354.8 171.6L359.3 180.1L364.8 188.5L369 197L370 198.1L379.7 205.5L381.7 213.9L374.5 222.4L370 227.5L369.1 230.9L347.7 230.9L325.3 230.9L302.9 230.9L280.6 230.9L258.2 230.9L235.8 230.9L213.4 230.9L191.1 230.9L168.7 230.9L146.3 230.9L124 230.9L101.6 230.9L101.6 222.4L101.6 214L101.6 205.5L101.6 197L101.6 188.5L101.6 180.1L101.6 171.6L101.6 163.1L101.6 154.7L101.6 146.2L101.6 137.7L101.6 129.2L101.6 120.8L101.6 112.3L101.6 103.8L101.6 95.4L101.6 86.9L101.6 78.4L101.6 70.8L124 74.8L138.5 78.4L146.3 80.8L162 78.4L168.7 77.4L176.9 70L179.7 61.5L179.7 53L177.4 44.5L168.7 39.1L157.1 36.1L150.8 27.6L150.8 19.1L150.8 10.7L150.8 2.2ZM900.2 -3L906.9 -3L906.9 2.2L906.9 10.7L906.9 19.1L906.9 27.6L906.9 36.1L906.9 44.6L906.9 53L906.9 61.5L906.9 70L906.9 78.4L906.9 86.9L906.9 95.4L906.9 103.8L906.9 112.3L906.9 120.8L906.9 122.5L903.6 120.8L889 112.3L900.2 103.8L900.2 95.4L900.2 86.9L900.2 78.4L900.2 70L900.2 61.5L900.2 53L900.2 44.6L900.2 36.1L900.2 27.6L900.2 19.1L900.2 10.7L900.2 2.2ZM472.9 27.6L481.9 20.8L487 27.6L489.2 36.1L488.4 44.6L487.6 53L483.6 61.5L481.9 63.2L478.5 61.5L471.2 53L462.5 44.6L459.5 42.9L455.5 36.1L459.5 32.7Z"/>
<path fill="#ffa700" d="M164.2 -3L168.7 -3L191.1 -3L213.4 -3L235.8 -3L258.2 -3L280.6 -3L302.9 -3L325.3 -3L347.7 -3L370 -3L392.4 -3L414.8 -3L425.5 -3L425.5 2.2L414.8 5.6L403.3 10.7L392.4 13.5L381.5 10.7L370 5.6L347.7 4.6L325.3 6.3L302.9 9.4L300.2 10.7L294.6 19.1L292.9 27.6L292 36.1L291.3 44.6L280.6 51.3L258.2 51.7L254.5 53L242.1 61.5L235.8 67.4L234.1 70L232.6 78.4L226.9 86.9L223.9 95.4L235.8 97.3L258.2 98.4L269.2 103.8L276.1 112.3L280.6 115.5L302.9 119.3L313.4 120.8L320.8 129.2L325.3 134.3L327.1 137.7L331.6 146.2L336 154.7L341.7 163.1L347.7 169.9L349.5 171.6L353.9 180.1L360.3 188.5L366.1 197L370 201.5L375.3 205.5L376.3 214L370 219.9L368.5 222.4L366.5 230.9L347.7 230.9L325.3 230.9L302.9 230.9L280.6 230.9L258.2 230.9L235.8 230.9L213.4 230.9L191.1 230.9L168.7 230.9L146.3 230.9L124 230.9L101.6 230.9L101.6 222.4L101.6 214L101.6 205.5L101.6 197L101.6 188.5L101.6 180.1L101.6 171.6L101.6 163.1L101.6 154.7L101.6 146.2L101.6 137.7L101.6 129.2L101.6 120.8L101.6 112.3L101.6 103.8L101.6 95.4L101.6 86.9L101.6 78.4L101.6 73.3L124 76.5L131.8 78.4L146.3 82.8L168.7 80.1L170.1 78.4L179.1 70L181.8 61.5L181.8 53L179.5 44.6L168.7 37.7L162.4 36.1L164.2 27.6L164.2 19.1L164.2 10.7L164.2 2.2ZM479.7 27.6L481.9 25.9L483.2 27.6L485.8 36.1L485.4 44.6L484.5 53L481.9 58.3L477 53L471.5 44.6L459.5 37.8L458.5 36.1L459.5 35.2ZM902.4 112.3L906.9 108.9L906.9 112.3L906.9 115.7Z"/>
<path fill="#ff9100" d="M177.7 -3L191.1 -3L213.4 -3L235.8 -3L258.2 -3L280.6 -3L302.9 -3L325.3 -3L347.7 -3L370 -3L392.4 -3L414.8 -3L420.1 -3L420.1 2.2L414.8 3.9L399.4 10.7L392.4 12.5L385.4 10.7L370 3.9L347.7 2.5L325.3 4.2L302.9 6.9L294.9 10.7L290.8 19.1L289.5 27.6L288.4 36.1L285.9 44.5L280.6 47.9L258.2 49.2L247 53L236.7 61.5L235.8 62.3L230.8 70L230.1 78.4L220.2 86.9L214.9 95.4L235.8 98.8L258.2 99.4L267.1 103.8L274 112.3L280.6 116.9L302.9 120.6L304.4 120.8L311.9 129.2L320.8 137.7L325.3 144.5L326.2 146.2L330.7 154.7L337.2 163.1L344.5 171.6L347.7 178.4L348.6 180.1L355.9 188.5L363.1 197L370 204.9L370.8 205.5L370.9 214L370 214.8L365.6 222.4L363.8 230.9L347.7 230.9L325.3 230.9L302.9 230.9L280.6 230.9L258.2 230.9L235.8 230.9L213.4 230.9L191.1 230.9L168.7 230.9L146.3 230.9L124 230.9L101.6 230.9L101.6 222.4L101.6 214L101.6 205.5L101.6 197L101.6 188.5L101.6 180.1L101.6 171.6L101.6 163.1L101.6 154.7L101.6 146.2L101.6 137.7L101.6 129.2L101.6 120.8L101.6 112.3L101.6 103.8L101.6 95.4L101.6 86.9L101.6 78.4L101.6 75.9L124 78.1L125.1 78.4L146.3 84.9L168.7 83.5L172.7 78.4L181.4 70L183.9 61.5L183.9 53L181.7 44.6L168.7 36.3L167.8 36.1L168.7 34.4L173.2 27.6L177.7 19.1L177.7 10.7L177.7 2.2ZM477.4 36.1L481.9 34.4L482.4 36.1L482.4 44.6L481.9 48.8L480.4 44.6Z"/>
<path fill="#ff7700" d="M191.1 -3L213.4 -3L235.8 -3L235.8 2.2L235.8 10.7L235.8 10.7L235.8 10.7L235.8 2.2L235.8 -3L258.2 -3L273.1 -3L273.1 2.2L280.6 5L289.5 10.7L287 19.1L286.2 27.6L284.8 36.1L280.6 44.6L280.6 44.6L258.2 46.7L239.5 53L235.8 56.2L230.2 61.5L227.4 70L227.7 78.4L213.4 86.9L213.4 86.9L206 95.4L213.4 97.5L235.8 100.2L258.2 100.5L265.1 103.8L272 112.3L280.6 118.4L295.5 120.8L302.9 129.2L302.9 129.2L314.1 137.7L320.4 146.2L325.3 154.7L325.3 154.7L332.8 163.1L339.7 171.6L343.9 180.1L347.7 184.3L351.4 188.5L360.1 197L367.7 205.5L367.6 213.9L362.6 222.4L361.1 230.9L347.7 230.9L325.3 230.9L302.9 230.9L280.6 230.9L258.2 230.9L235.8 230.9L213.4 230.9L191.1 230.9L168.7 230.9L146.3 230.9L124 230.9L101.6 230.9L101.6 222.4L101.6 214L101.6 205.5L101.6 197L101.6 188.5L101.6 180.1L101.6 171.6L101.6 163.1L101.6 154.7L101.6 146.2L101.6 137.7L101.6 129.2L101.6 120.8L101.6 112.3L101.6 103.8L101.6 95.4L101.6 86.9L101.6 78.4L124 81.3L146.3 86.9L146.3 86.9L168.7 86.9L168.7 86.9L175.4 78.4L183.6 70L185.9 61.5L185.9 53L183.9 44.6L172.4 36.1L179.9 27.6L191.1 19.1L191.1 19.1L191.1 10.7L191.1 2.2ZM325.3 222.4L325.3 222.4L325.3 222.4L325.3 222.4ZM291.7 -3L302.9 -3L325.3 -3L325.3 2.2L302.9 4.3L291.7 2.2ZM370 -3L392.4 -3L414.8 -3L414.8 2.2L395.6 10.7L392.4 11.5L389.2 10.7L370 2.2Z"/>
<path fill="#ff6000" d="M204.5 -3L213.4 -3L222.4 -3L222.4 2.2L222.4 10.7L235.8 12.4L249.2 10.7L249.2 2.2L249.2 -3L258.2 -3L264.2 -3L264.2 2.2L280.6 8.4L284.1 10.7L283.1 19.1L282.8 27.6L281.2 36.1L280.6 37.3L258.2 43.9L256.7 44.6L235.8 51.5L230.2 53L223.5 61.5L224.1 70L225.2 78.4L213.4 85.4L200 86.9L197 95.4L213.4 100L235.8 101.7L258.2 101.5L263 103.8L269.9 112.3L280.6 119.8L286.5 120.8L298.5 129.2L302.9 134.3L307.4 137.7L314.6 146.2L319.9 154.7L325.3 159.7L328.3 163.1L334.9 171.6L339.5 180.1L346.7 188.5L347.7 189L357.1 197L364.9 205.5L364.6 214L359.6 222.4L358.4 230.9L347.7 230.9L325.3 230.9L302.9 230.9L280.6 230.9L258.2 230.9L235.8 230.9L213.4 230.9L191.1 230.9L168.7 230.9L146.3 230.9L124 230.9L101.6 230.9L101.6 222.4L101.6 214L101.6 205.5L101.6 197L101.6 188.5L101.6 180.1L101.6 171.6L101.6 163.1L101.6 154.7L101.6 146.2L101.6 137.7L101.6 129.2L101.6 120.8L101.6 112.3L101.6 103.8L101.6 95.4L101.6 86.9L101.6 83.5L124 84.6L132.9 86.9L146.3 90.3L168.7 90.3L182.1 86.9L178.1 78.4L185.9 70L188 61.5L188 53L186 44.6L176.9 36.1L186.6 27.6L191.1 24.2L204.5 19.1L204.5 10.7L204.5 2.2ZM325.3 219L320.8 222.4L325.3 225L329.8 222.4ZM375.4 -3L392.4 -3L409.4 -3L409.4 2.2L392.4 10.2L375.4 2.2Z"/>
<path fill="#ff4700" d="M380.8 -3L392.4 -3L404 -3L404 2.2L392.4 7.7L380.8 2.2ZM215.7 19.1L235.8 14.1L258.2 11.5L278.3 19.1L278.3 27.6L270.4 36.1L258.2 40L247.8 44.6L235.8 48.5L219 53L216.8 61.5L220.7 70L222.8 78.4L213.4 84L191.1 86.2L180.8 78.4L188.1 70L190 61.5L190 53L188.2 44.5L181.4 36.1L191.1 28.7L192.9 27.6L213.4 19.8ZM101.6 95.4L101.6 90.3L124 90.3L146.3 93.7L168.7 93.7L182.1 95.4L191.1 96.5L213.4 102.6L235.8 103.1L258.2 102.5L260.9 103.8L267.8 112.3L277.6 120.8L280.6 121.6L294 129.2L301.1 137.7L302.9 139.8L308.8 146.2L314.6 154.7L323.1 163.1L325.3 165.2L330.1 171.6L335 180.1L340.9 188.5L347.7 191.5L354.1 197L362.1 205.5L361.6 214L356.6 222.4L355.7 230.9L347.7 230.9L325.3 230.9L302.9 230.9L280.6 230.9L258.2 230.9L235.8 230.9L213.4 230.9L191.1 230.9L168.7 230.9L146.3 230.9L124 230.9L101.6 230.9L101.6 222.4L101.6 214L101.6 205.5L101.6 197L101.6 188.5L101.6 180.1L101.6 171.6L101.6 163.1L101.6 154.7L101.6 146.2L101.6 137.7L101.6 129.2L101.6 120.8L101.6 112.3L101.6 103.8ZM325.3 215.6L316.4 222.4L325.3 227.5L334.2 222.4Z"/>
<path fill="#ff3000" d="M386.1 -3L392.4 -3L398.7 -3L398.7 2.2L392.4 5.2L386.1 2.2ZM222.4 19.1L235.8 15.8L258.2 14.1L271.6 19.1L271.6 27.6L258.2 36.1L258.2 36.1L238.8 44.6L235.8 45.5L213.4 51.1L191.1 47.9L190.4 44.6L185.9 36.1L191.1 32.1L198.2 27.6L213.4 21.9ZM190.3 70L191.1 66.6L213.4 64L217.4 70L220.4 78.4L213.4 82.5L191.1 84.2L183.5 78.4ZM101.6 103.8L101.6 100.5L124 100.5L146.3 100.5L168.7 97.9L191.1 99.9L206.7 103.8L213.4 105.5L235.8 105.5L249.2 103.8L258.2 103.5L258.9 103.8L265.8 112.3L268.6 120.8L280.6 124.2L289.5 129.2L295.8 137.7L302.9 146.2L302.9 146.2L309.2 154.7L316.4 163.1L325.3 171.6L325.3 171.6L330.5 180.1L335 188.5L347.7 194L351.1 197L359.3 205.5L358.6 214L353.6 222.4L353 230.9L347.7 230.9L325.3 230.9L302.9 230.9L280.6 230.9L258.2 230.9L235.8 230.9L213.4 230.9L191.1 230.9L168.7 230.9L146.3 230.9L124 230.9L101.6 230.9L101.6 222.4L101.6 214L101.6 205.5L101.6 197L101.6 188.5L101.6 180.1L101.6 171.6L101.6 163.1L101.6 154.7L101.6 146.2L101.6 137.7L101.6 129.2L101.6 120.8L101.6 112.3ZM235.8 118.3L229.2 120.8L235.8 122.5L245.1 120.8ZM325.3 211.4L323.1 214L311.9 222.4L325.3 230L338.7 222.4L328 214Z"/>
<path fill="#ff1600" d="M391.5 -3L392.4 -3L393.3 -3L393.3 2.2L392.4 2.6L391.5 2.2ZM229.1 19.1L235.8 17.4L258.2 16.6L264.9 19.1L264.9 27.6L258.2 31.8L251.5 36.1L235.8 42.7L224.6 44.6L213.4 47.2L202.3 44.6L191.1 37.8L190.3 36.1L191.1 35.5L203.6 27.6L213.4 23.9ZM209 70L213.4 69.1L214 70L217.9 78.4L213.4 81.1L191.1 82.2L186.2 78.4L191.1 72.2ZM164.2 103.8L168.7 103L191.1 103.3L193.3 103.8L213.4 108.9L235.8 108.9L258.2 105.5L263.7 112.3L259.7 120.8L280.6 126.7L285 129.2L290.4 137.7L296.8 146.2L302.9 153.4L303.8 154.7L309.6 163.1L318.6 171.6L325.3 178.9L326 180.1L329.2 188.5L347.7 196.6L348.2 197L356.5 205.5L355.6 214L350.7 222.4L350.4 230.9L347.7 230.9L334.2 230.9L343.2 222.4L333.4 214L325.3 206.3L318.6 213.9L307.4 222.4L316.4 230.9L302.9 230.9L280.6 230.9L258.2 230.9L235.8 230.9L213.4 230.9L191.1 230.9L186.6 230.9L186.6 222.4L186.6 214L186.6 205.5L186.6 197L186.6 188.5L186.6 180.1L186.6 171.6L186.6 163.1L191.1 161.4L195.6 163.1L195.6 171.6L213.4 178.4L224.6 171.6L218.4 163.1L214.8 154.7L213.4 153.5L200 146.2L193.3 137.7L191.1 136L179.9 129.2L191.1 122.5L194.3 120.8L191.1 119.6L168.7 117.4L155.3 112.3ZM235.8 115.3L221.3 120.8L235.8 124.5L256.3 120.8Z"/>
<path fill="#e40000" d="M209 27.6L213.4 25.9L235.8 19.1L258.2 27.6L244.8 36.1L235.8 39.8L213.4 43.4L197.3 36.1ZM188.8 78.4L191.1 75.6L213.4 74.2L215.5 78.4L213.4 79.6L191.1 80.1ZM235.8 112.3L258.2 108.1L261.6 112.3L258.2 118ZM200 129.2L213.4 120.8L235.8 126.5L258.2 122.5L280.6 129.2L280.6 129.2L285 137.7L290.7 146.2L296.7 154.7L302.9 163.1L302.9 163.1L311.9 171.6L317.8 180.1L321.6 188.5L325.3 197L320.8 205.5L314.1 214L302.9 222.4L302.9 222.4L302.9 230.9L280.6 230.9L258.2 230.9L235.8 230.9L235.8 222.4L235.8 214L235.8 205.5L258.2 197L258.2 197L258.2 197L247 188.5L242 180.1L238.8 171.6L235.8 169.9L225.9 163.1L222.7 154.7L213.4 146.2L213.4 146.2L206.7 137.7ZM331.5 205.5L347.7 199.4L353.7 205.5L352.6 214L347.7 222.4L338.7 214Z"/>
<path fill="#c80000" d="M217.9 27.6L235.8 24.2L244.8 27.6L238.1 36.1L235.8 37L213.4 40L204.8 36.1L213.4 28.7ZM249.2 112.3L258.2 110.6L259.6 112.3L258.2 114.6ZM226.9 129.2L235.8 128.6L258.2 124.5L273.8 129.2L279.2 137.7L280.6 139.4L284.6 146.2L289.3 154.7L296.2 163.1L302.9 169.5L305.2 171.6L308.9 180.1L310.4 188.5L315 197L315.5 205.5L309.6 214L302.9 219L289.5 222.4L289.5 230.9L280.6 230.9L262.7 230.9L262.7 222.4L262.7 214L262.7 205.5L271.6 197L259.5 188.5L258.2 187.5L249.5 180.1L247.8 171.6L235.8 164.8L233.3 163.1L230.6 154.7L226.9 146.2L223 137.7ZM339 205.5L347.7 202.2L350.9 205.5L349.7 214L347.7 217.3L344.1 214Z"/>
<path fill="#a80000" d="M212.2 36.1L213.4 35L217.9 36.1L213.4 36.6ZM243.3 129.2L258.2 126.5L267.1 129.2L271.3 137.7L276.8 146.2L280.6 151.8L281.8 154.7L289.5 163.1L296.5 171.6L299.2 180.1L299.2 188.5L302.9 194.2L304.7 197L310.1 205.5L305.2 214L302.9 215.6L289.5 214L285 205.5L295.5 197L280.6 195.6L267.4 188.5L258.2 181.1L256.9 180.1L256.7 171.6L248.6 163.1L240.3 154.7L239.5 146.2L239.5 137.7ZM346.4 205.5L347.7 205L348.1 205.5L347.7 208.3Z"/>
<path fill="#8d0000" d="M254.5 129.2L258.2 128.6L260.4 129.2L263.5 137.7L265.6 146.2L264.6 154.7L258.2 158L253.7 154.7L250.7 146.2L250.7 137.7ZM271.6 163.1L280.6 160.7L282.8 163.1L287 171.6L288 180.1L288 188.5L280.6 191.4L275.3 188.5L270.6 180.1L270.6 171.6ZM298.5 205.5L302.9 203.1L304.7 205.5L302.9 208.9Z"/>
</g>
<polygon points="100,-5 100,36.1 109.5,36.1 123.9,36.1 146.2,27.6 168.5,27.6 190.7,19.2 213,19.2 235.3,10.7 258.7,10.7 280.9,2.2 303.2,2.2 308.8,0 308.8,-5" fill="#fff"/><polygon points="726,0 728.5,1.9 751.1,11.3 751.1,18.8 773.3,27.8 773.3,35.7 795.6,44.2 795.6,52.6 818.2,60.5 818.2,69.2 840.4,77.5 840.4,86.1 862.8,94 862.8,102.5 885,110.9 885,118.8 896,122.7 900,122.7 900,-5 726,-5" fill="#fff"/><polygon points="109.5,68.5 124,76.2 124,84.9 146.4,95.4 146.4,110.5 168.5,119.5 168.5,127.2 190.9,136.6 190.9,144.2 213.3,153 213.3,160.7 235.7,170 235.7,177.1 258.1,186.2 258.1,193.3 280.5,203.2 280.5,210.3 302.9,218.8 302.9,227.3 314.8,231.5 314.8,236 100,236 100,68.5" fill="#fff"/>
<polyline points="124.5,43.6 146.9,52.8 146.9,68.6 214,93.9 236.4,93.9 258.7,85.3 281.1,93.9 303.5,85.3 348.2,85.3 415.3,110.2 437.7,110.2 482.4,127 504.8,127 527.2,118.8 549.5,118.8 571.9,127 594.3,118.8 616.6,127 639,118.6 661.4,118.6 683.8,127 706.1,127 773.2,152.4 773.2,160.3 795.6,168.6 818,168.6" fill="none" stroke="#800080" stroke-width="5.5" stroke-linecap="square" stroke-linejoin="miter"/>
</g>
<g>
<rect x="915.8" y="1.50" width="11.4" height="229.00" fill="#00008d"/>
<rect x="915.8" y="1.50" width="11.4" height="223.13" fill="#0000a8"/>
<rect x="915.8" y="1.50" width="11.4" height="217.26" fill="#0000c8"/>
<rect x="915.8" y="1.50" width="11.4" height="211.38" fill="#0000e3"/>
<rect x="915.8" y="1.50" width="11.4" height="205.51" fill="#0000ff"/>
<rect x="915.8" y="1.50" width="11.4" height="199.64" fill="#0010ff"/>
<rect x="915.8" y="1.50" width="11.4" height="193.77" fill="#0028ff"/>
<rect x="915.8" y="1.50" width="11.4" height="187.90" fill="#0044ff"/>
<rect x="915.8" y="1.50" width="11.4" height="182.03" fill="#005cff"/>
<rect x="915.8" y="1.50" width="11.4" height="176.15" fill="#0078ff"/>
<rect x="915.8" y="1.50" width="11.4" height="170.28" fill="#0090ff"/>
<rect x="915.8" y="1.50" width="11.4" height="164.41" fill="#00acff"/>
<rect x="915.8" y="1.50" width="11.4" height="158.54" fill="#00c8ff"/>
<rect x="915.8" y="1.50" width="11.4" height="152.67" fill="#00e0fb"/>
<rect x="915.8" y="1.50" width="11.4" height="146.79" fill="#13fce4"/>
<rect x="915.8" y="1.50" width="11.4" height="140.92" fill="#26ffd1"/>
<rect x="915.8" y="1.50" width="11.4" height="135.05" fill="#3cffba"/>
<rect x="915.8" y="1.50" width="11.4" height="129.18" fill="#50ffa7"/>
<rect x="915.8" y="1.50" width="11.4" height="123.31" fill="#66ff90"/>
<rect x="915.8" y="1.50" width="11.4" height="117.44" fill="#7dff7a"/>
<rect x="915.8" y="1.50" width="11.4" height="111.56" fill="#90ff66"/>
<rect x="915.8" y="1.50" width="11.4" height="105.69" fill="#a7ff50"/>
<rect x="915.8" y="1.50" width="11.4" height="99.82" fill="#baff3c"/>
<rect x="915.8" y="1.50" width="11.4" height="93.95" fill="#d1ff26"/>
<rect x="915.8" y="1.50" width="11.4" height="88.08" fill="#e4ff13"/>
<rect x="915.8" y="1.50" width="11.4" height="82.21" fill="#fbf100"/>
<rect x="915.8" y="1.50" width="11.4" height="76.33" fill="#ffdb00"/>
<rect x="915.8" y="1.50" width="11.4" height="70.46" fill="#ffc100"/>
<rect x="915.8" y="1.50" width="11.4" height="64.59" fill="#ffa700"/>
<rect x="915.8" y="1.50" width="11.4" height="58.72" fill="#ff9100"/>
<rect x="915.8" y="1.50" width="11.4" height="52.85" fill="#ff7700"/>
<rect x="915.8" y="1.50" width="11.4" height="46.97" fill="#ff6000"/>
<rect x="915.8" y="1.50" width="11.4" height="41.10" fill="#ff4700"/>
<rect x="915.8" y="1.50" width="11.4" height="35.23" fill="#ff3000"/>
<rect x="915.8" y="1.50" width="11.4" height="29.36" fill="#ff1600"/>
<rect x="915.8" y="1.50" width="11.4" height="23.49" fill="#e40000"/>
<rect x="915.8" y="1.50" width="11.4" height="17.62" fill="#c80000"/>
<rect x="915.8" y="1.50" width="11.4" height="11.74" fill="#a80000"/>
<rect x="915.8" y="1.50" width="11.4" height="5.87" fill="#8d0000"/>
</g>
<rect x="915.8" y="1.5" width="11.400000000000091" height="229.0" fill="none" stroke="#222" stroke-width="1"/>
<path d="M927.2 230.5h4M927.2 207.0h4M927.2 183.5h4M927.2 160.0h4M927.2 136.6h4M927.2 113.1h4M927.2 89.6h4M927.2 66.1h4M927.2 42.6h4M927.2 19.1h4" stroke="#222" stroke-width="1" fill="none"/>
<g class="cb" transform="scale(1,0.94)">
<text x="940.3" y="255.1">0.0</text>
<text x="940.3" y="230.1">2.4</text>
<text x="940.3" y="205.1">4.8</text>
<text x="940.3" y="180.1">7.2</text>
<text x="940.3" y="155.2">9.6</text>
<text x="940.3" y="130.2">12.0</text>
<text x="940.3" y="105.2">14.4</text>
<text x="940.3" y="80.2">16.8</text>
<text x="940.3" y="55.2">19.2</text>
<text x="940.3" y="30.2">21.6</text>
</g>
<polyline points="123.3,335.4 123.8,337.8 124.3,340.1 124.9,342.5 125.4,344.8 126.1,347.2 126.7,349.5 127.5,351.8 128.3,354.1 129.2,356.4 130.2,358.5 131.5,360.5 133.1,362.5 135.1,364.2 137.3,365.0 139.4,364.3 141.3,362.5 142.9,360.4 144.2,358.3 145.2,356.2 146.2,354.0 147.1,351.8 148.0,349.6 148.8,347.3 149.7,345.0 150.5,342.7 151.3,340.4 152.1,338.1 152.9,335.8 153.7,333.6 154.5,331.3 155.4,329.0 156.2,326.7 157.0,324.4 157.8,322.1 158.4,319.8 159.1,317.5 159.7,315.1 160.3,312.8 160.9,310.4 161.4,308.1 162.1,305.7 162.7,303.4 163.4,301.1 164.0,298.8 164.7,296.4 165.5,294.1 166.2,291.8 166.9,289.5 167.7,287.2 168.4,284.9 169.2,282.6 170.0,280.3 170.8,278.0 171.6,275.7 172.4,273.4 173.2,271.2 174.0,268.9 174.9,266.6 175.7,264.4 176.6,262.1 177.5,259.9 178.4,257.6 179.4,255.3 180.4,253.1 181.5,251.0 182.7,248.9 184.2,247.0 186.0,245.3 188.2,244.2 190.5,244.5 192.4,246.1 194.1,248.1 195.4,250.1 196.6,252.1 197.7,254.2 198.7,256.4 199.7,258.6 200.6,260.9 201.6,263.1 202.5,265.4 203.4,267.6 204.4,269.9 205.3,272.1 206.4,274.3 207.4,276.5 208.6,278.6 209.8,280.7 211.1,282.8 212.5,284.7 214.1,286.6 215.8,288.3 217.8,289.8 219.8,291.1 222.1,292.0 224.4,292.6 226.8,293.0 229.3,293.2 231.7,293.6 234.0,294.1 236.3,294.9 238.4,296.1 240.4,297.5 242.3,299.1 244.1,300.8 245.7,302.6 247.3,304.4 248.8,306.3 250.1,308.3 251.4,310.4 252.5,312.5 253.5,314.7 254.5,316.9 255.4,319.2 256.2,321.5 257.1,323.7 258.0,326.0 258.9,328.3 259.8,330.5 260.8,332.7 261.8,335.0 262.8,337.2 263.9,339.3 264.9,341.5 266.0,343.7 267.0,345.9 268.1,348.1 269.1,350.2 270.2,352.4 271.2,354.6 272.3,356.8 273.4,359.0 274.5,361.1 275.6,363.2 276.8,365.3 278.1,367.4 279.5,369.4 280.9,371.4 282.5,373.3 284.1,375.1 285.8,376.8 287.6,378.4 289.5,379.9 291.5,381.3 293.5,382.6 295.6,383.8 297.8,385.0 299.9,386.2 302.0,387.4 304.1,388.6 306.1,389.9 308.2,391.2 310.2,392.6 312.2,393.9 314.2,395.3 316.2,396.6 318.2,397.9 320.3,399.2 322.4,400.5 324.6,401.6 326.8,402.6 329.1,403.4 331.5,403.9 333.9,404.0 336.4,403.7 338.8,403.0 341.0,402.0 343.0,400.6 344.7,398.9 346.2,397.0 347.4,394.9 348.6,392.7 349.7,390.4 350.7,388.2 351.8,386.0 352.8,383.8 353.8,381.6 354.8,379.4 355.8,377.2 356.8,375.0 357.7,372.8 358.7,370.6 359.6,368.5 360.7,366.3 361.9,364.2 363.4,362.2 365.1,360.2 367.0,358.4 369.1,357.1 371.3,356.4 373.6,356.7 375.8,357.8 377.8,359.4 379.6,361.3 381.1,363.3 382.4,365.4 383.6,367.5 384.7,369.6 385.8,371.7 386.9,373.9 388.1,376.0 389.4,378.0 390.7,380.1 392.2,382.0 393.8,383.9 395.4,385.6 397.2,387.3 399.0,388.9 400.9,390.4 402.8,391.9 404.8,393.3 406.7,394.7 408.7,396.2 410.6,397.6 412.5,399.1 414.4,400.7 416.2,402.3 417.9,404.0 419.6,405.8 421.2,407.6 422.8,409.4 424.4,411.3 425.9,413.2 427.3,415.1 428.8,417.0 430.2,419.0 431.7,420.9 433.2,422.8 434.6,424.8 436.2,426.6 437.7,428.5 439.3,430.4 440.9,432.2 442.5,434.0 444.1,435.8 445.7,437.6 447.3,439.4 449.0,441.2 450.6,443.0 452.2,444.8 453.9,446.5 455.6,448.2 457.4,449.9 459.1,451.6 461.0,453.2 462.9,454.7 464.8,456.1 466.8,457.5 468.9,458.8 471.0,460.0 473.2,461.1 475.4,462.0 477.6,462.9 479.9,463.7 482.2,464.4 484.5,465.2 486.8,466.0 489.1,466.9 491.3,467.9 493.5,469.1 495.5,470.4 497.4,471.9 499.1,473.5 500.8,475.3 502.4,477.1 503.9,479.1 505.3,481.1 506.7,483.1 508.1,485.1 509.4,487.1 510.9,489.1 512.3,491.0 513.9,492.8 515.6,494.5 517.4,496.1 519.4,497.5 521.6,498.8 523.9,499.5 526.2,499.2 528.4,498.0 530.3,496.3 531.8,494.4 533.1,492.4 534.2,490.2 535.2,488.0 536.2,485.7 537.2,483.5 538.2,481.3 539.2,479.1 540.3,477.0 541.5,474.9 542.7,472.7 544.0,470.6 545.3,468.6 546.9,466.7 548.6,465.0 550.6,463.7 552.9,462.7 555.3,462.2 557.7,462.4 560.0,463.1 562.3,464.0 564.6,465.0 566.9,465.8 569.3,466.4 571.6,466.8 574.0,466.8 576.4,466.5 578.8,465.9 581.2,465.3 583.6,464.6 585.9,464.1 588.3,463.7 590.7,463.6 593.1,463.9 595.5,464.6 597.7,465.6 599.8,466.9 601.6,468.5 603.3,470.2 604.9,472.0 606.6,473.9 608.2,475.7 609.9,477.4 611.6,479.1 613.3,480.8 615.1,482.4 617.0,484.0 618.9,485.4 620.9,486.8 623.0,488.1 625.1,489.4 627.2,490.5 629.4,491.5 631.6,492.5 633.9,493.4 636.1,494.3 638.4,495.2 640.6,496.2 642.8,497.2 645.0,498.2 647.2,499.2 649.4,500.2 651.6,501.2 653.9,502.1 656.2,502.9 658.5,503.6 660.8,504.2 663.2,504.8 665.5,505.3 667.9,505.8 670.3,506.3 672.7,506.8 675.0,507.3 677.4,507.9 679.7,508.5 682.1,509.0 684.4,509.6 686.8,510.2 689.2,510.7 691.5,511.3 693.9,511.7 696.3,512.1 698.7,512.4 701.1,512.5 703.6,512.3 705.9,511.8 708.3,511.1 710.5,510.2 712.8,509.2 714.9,508.2 717.0,507.0 719.1,505.7 721.2,504.4 723.3,503.2 725.4,502.0 727.6,501.0 729.8,500.1 732.2,499.4 734.5,498.9 736.9,498.4 739.3,498.0 741.7,497.6 744.0,497.0 746.3,496.2 748.5,495.2 750.6,494.0 752.7,492.6 754.6,491.1 756.4,489.6 758.2,487.9 759.9,486.1 761.5,484.4 763.2,482.6 764.9,480.9 766.8,479.3 768.7,477.9 770.9,476.7 773.2,475.8 775.5,475.3 777.9,475.0 780.4,475.0 782.8,475.3 785.2,475.8 787.5,476.4 789.9,477.0 792.2,477.6 794.6,478.0 797.0,478.2 799.5,478.2 801.9,477.8 804.2,477.2 806.5,476.2 808.6,475.1 810.6,473.6 812.4,472.0 814.1,470.3 815.8,468.6 817.5,466.8 819.3,465.2" fill="none" stroke="#000" stroke-width="6.3" stroke-linejoin="round"/>
<path d="M109.1 1.4H895.5V525.8H109.1ZM109.1 230.6H895.5" fill="none" stroke="#555" stroke-width="1.5"/>
<path d="M109.1 39.3h-4.3M109.1 115.7h-4.3M109.1 192.1h-4.3M109.1 512.3h-4.3M109.1 441.0h-4.3M109.1 369.7h-4.3M109.1 298.4h-4.3M180.5 525.8v4.3M323.4 525.8v4.3M466.3 525.8v4.3M609.3 525.8v4.3M752.2 525.8v4.3M895.1 525.8v4.3" stroke="#222" stroke-width="1" fill="none"/>
<g class="ax">
<text x="95" y="50.9" text-anchor="end">0</text>
<text x="95" y="127.3" text-anchor="end">−10</text>
<text x="95" y="203.7" text-anchor="end">−20</text>
<text x="95" y="522.1" text-anchor="end">0</text>
<text x="95" y="450.8" text-anchor="end">5</text>
<text x="95" y="379.5" text-anchor="end">10</text>
<text x="95" y="308.2" text-anchor="end">15</text>
<text x="180.8" y="566.8" text-anchor="middle">50</text>
<text x="324.9" y="566.8" text-anchor="middle">100</text>
<text x="467.8" y="566.8" text-anchor="middle">150</text>
<text x="609.6" y="566.8" text-anchor="middle">200</text>
<text x="752.5" y="566.8" text-anchor="middle">250</text>
<text x="895.4" y="566.8" text-anchor="middle">300</text>
<text transform="translate(27.4,117.3) rotate(-90)" text-anchor="middle"><tspan font-style="italic">Z</tspan> (Å)</text>
<text transform="translate(33.3,380) rotate(-90)" text-anchor="middle" style="font-size:29.6px">Free energy (kT)</text>
<text x="502" y="610.4" text-anchor="middle"><tspan font-style="italic">D</tspan> (Å)</text>
</g>
<g class="an">
<text x="128" y="303.7">N</text>
<text x="176.5" y="329.3">TS</text>
<text x="312" y="363.7">I1</text>
<text x="506.5" y="459">I2</text>
<text x="680" y="483.5">U1</text>
<text x="777.5" y="454.5">U2</text>
</g>
</svg>
</body></html>
